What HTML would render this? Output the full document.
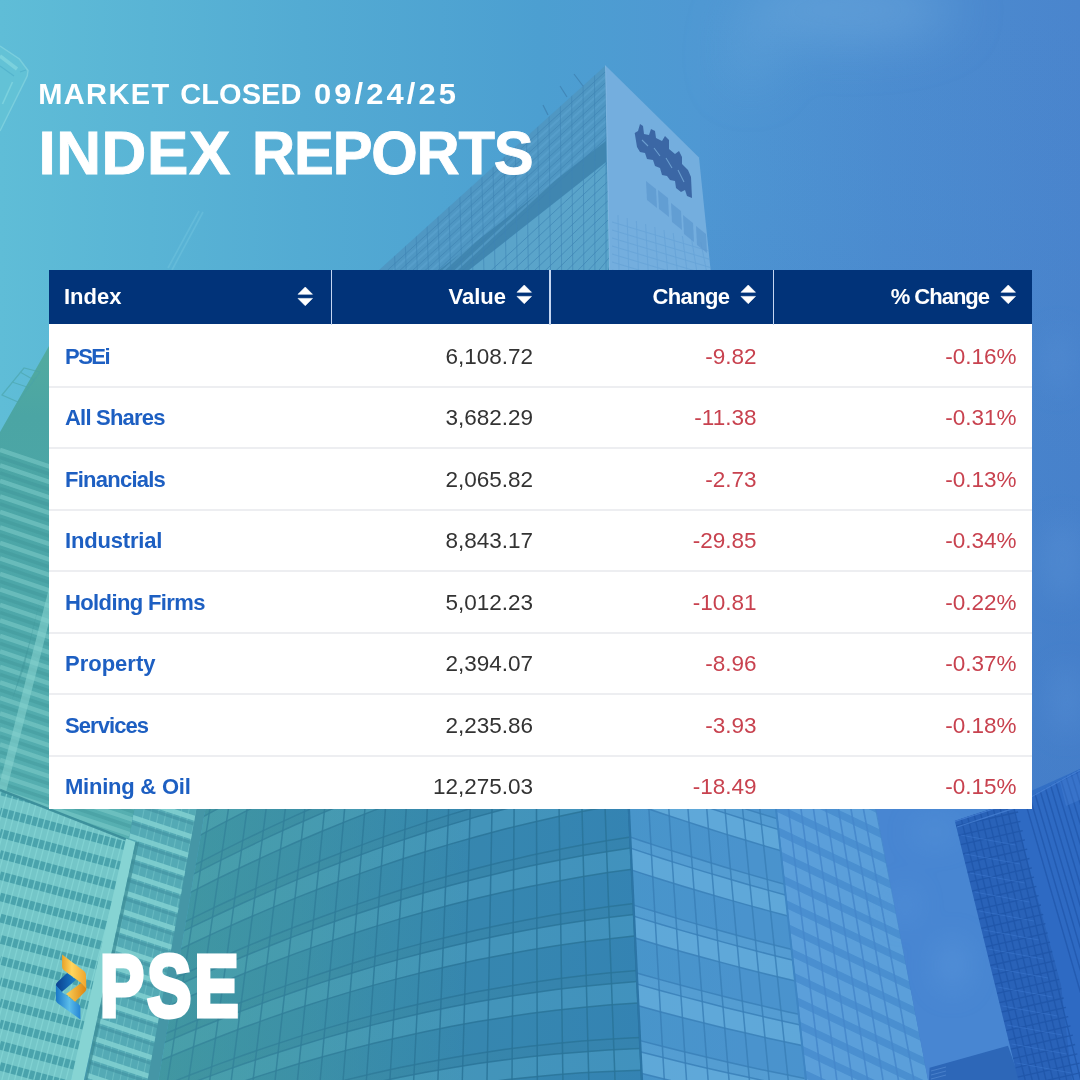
<!DOCTYPE html>
<html lang="en"><head><meta charset="utf-8"><title>Index Reports</title>
<style>
*{margin:0;padding:0;box-sizing:border-box}
html,body{width:1080px;height:1080px;overflow:hidden;background:#4a94c8}
body{position:relative;font-family:"Liberation Sans",sans-serif}
#bg{position:absolute;left:0;top:0;width:1080px;height:1080px;display:block}
.sub{position:absolute;left:0;top:73.6px;color:#fff;font-weight:bold;font-size:29px;line-height:40px;white-space:nowrap}
.sub span{position:absolute;top:0;display:block;transform-origin:0 0}
.title{position:absolute;left:0;top:117.8px;color:#fff;font-weight:bold;font-size:62px;line-height:70px;white-space:nowrap;-webkit-text-stroke:0.9px #fff}
.title span{position:absolute;top:0;display:block;transform-origin:0 0}
.tbl{position:absolute;left:49px;top:270px;width:983px;height:539px;background:#fff;overflow:hidden}
.hd{position:absolute;left:0;top:0;width:983px;height:54px;background:#013379}
.hd div{position:absolute;top:0;height:54px;color:#fff;font-weight:bold;font-size:22px;line-height:54px;white-space:nowrap}
.hd .sep{width:1.5px;background:#c4d6f2;top:0;height:54.5px}
.row{position:absolute;left:0;width:983px;height:61.4px}
.ln{position:absolute;left:0;width:983px;height:2px;background:#edeef1}
.row div{position:absolute;top:2px;height:60px;line-height:60px;font-size:22.5px;white-space:nowrap}
.c1{left:16px;color:#1d5fc2;font-weight:bold;font-size:22px !important}
.c2{right:499px;color:#333;text-align:right}
.c3{right:275.5px;color:#c8424f;text-align:right}
.c4{right:15.5px;color:#c8424f;text-align:right}
.srt{position:absolute}
.pse{position:absolute;left:100.4px;top:944.3px;color:#fff;font-weight:bold;font-size:86.2px;line-height:84px;white-space:nowrap;-webkit-text-stroke:5px #fff;letter-spacing:4.3px;transform-origin:0 0;transform:scaleX(0.765)}
</style></head>
<body>
<svg id="bg" width="1080" height="1080" viewBox="0 0 1080 1080">
<defs>
<linearGradient id="sky" x1="0" y1="0" x2="1" y2="0">
<stop offset="0" stop-color="#5fbdd7"/><stop offset="0.28" stop-color="#53abd3"/><stop offset="0.5" stop-color="#4c9fd1"/><stop offset="0.65" stop-color="#4f98d3"/><stop offset="0.82" stop-color="#4c8dd0"/><stop offset="1" stop-color="#4a85cd"/>
</linearGradient>
<linearGradient id="skyv" x1="0" y1="0" x2="0" y2="1">
<stop offset="0" stop-color="#3a70c2" stop-opacity="0"/><stop offset="0.2" stop-color="#3a70c2" stop-opacity="0.05"/><stop offset="1" stop-color="#3a70c2" stop-opacity="0.5"/>
</linearGradient>
<linearGradient id="faceL" x1="0" y1="1" x2="1" y2="0">
<stop offset="0" stop-color="#4f9cc6"/><stop offset="1" stop-color="#4a8fbe"/>
</linearGradient>
<linearGradient id="glassL" x1="0" y1="0" x2="1" y2="0">
<stop offset="0" stop-color="#4095a6"/><stop offset="0.5" stop-color="#3a8cb0"/><stop offset="1" stop-color="#3786b9"/>
</linearGradient>
<linearGradient id="tealO" gradientUnits="userSpaceOnUse" x1="160" y1="0" x2="470" y2="0"><stop offset="0" stop-color="#4aa59c" stop-opacity="0.4"/><stop offset="1" stop-color="#4aa59c" stop-opacity="0"/></linearGradient>
<linearGradient id="glassR" x1="0" y1="0" x2="1" y2="0">
<stop offset="0" stop-color="#4a98cb"/><stop offset="1" stop-color="#4d95d0"/>
</linearGradient>
<linearGradient id="bldA" x1="0" y1="0" x2="1" y2="0">
<stop offset="0" stop-color="#5ab4b6"/><stop offset="1" stop-color="#58b2b6"/>
</linearGradient>
<linearGradient id="stripL" x1="0" y1="0" x2="0" y2="1">
<stop offset="0" stop-color="#52ab9f"/><stop offset="0.14" stop-color="#4ba5a4"/><stop offset="0.5" stop-color="#4da7a9"/><stop offset="1" stop-color="#57b0b2"/>
</linearGradient>
<filter id="bl" x="-60%" y="-150%" width="220%" height="400%"><feGaussianBlur stdDeviation="14"/></filter>
<filter id="bl2" x="-60%" y="-200%" width="220%" height="500%"><feGaussianBlur stdDeviation="26"/></filter>
<clipPath id="cA"><polygon points="0,790 134.4,842.6 71,1080 0,1080"/></clipPath>
<clipPath id="cB"><polygon points="136,800 198,800 147.6,1080 86,1080"/></clipPath>
<clipPath id="cGL"><polygon points="207,800 628,800 642,1080 158.5,1080"/></clipPath>
<clipPath id="cGR"><polygon points="628,800 775,800 806,1080 642,1080"/></clipPath>
<clipPath id="cGF"><polygon points="775.5,800 874.5,800 928,1080 805,1080"/></clipPath>
<clipPath id="cD"><polygon points="954.8,820.7 1032,795.5 1080,769 1080,1080 1018.3,1080"/></clipPath>
<clipPath id="cT1"><polygon points="379,270 605.5,65.5 610,270"/></clipPath>
<clipPath id="cT2"><polygon points="605.5,65.5 699,157.5 710.6,270 609.4,270"/></clipPath>
<clipPath id="cS"><polygon points="49,346 0,432 0,790 134.4,842.6 146,800 49,800"/></clipPath>
</defs>
<rect width="1080" height="1080" fill="url(#sky)"/>
<rect x="700" width="380" height="1080" fill="url(#skyv)"/>
<g fill="#73addf" opacity="0.5" filter="url(#bl2)"><ellipse cx="850" cy="10" rx="105" ry="30"/><ellipse cx="885" cy="18" rx="50" ry="20"/><ellipse cx="750" cy="55" rx="14" ry="30"/></g>
<g fill="#5a92d6" opacity="0.4" filter="url(#bl)"><ellipse cx="1062" cy="560" rx="22" ry="40"/><ellipse cx="1066" cy="700" rx="18" ry="34"/><ellipse cx="1058" cy="360" rx="14" ry="30"/></g>
<g opacity="0.6"><polygon points="0,46 19.4,59 28,70.5 27.2,76 0,131" fill="#66c6d6"/><polyline points="0,46 19.4,59 28,70.5 27.2,76 0,131" fill="none" stroke="#8edbe2" stroke-width="1.4"/><path d="M0 56 L17 69" stroke="#8fe0e2" stroke-width="3.5" fill="none"/><path d="M12.5 82 L2.5 104" stroke="#8fe0e2" stroke-width="1.6" fill="none"/><path d="M0 66 L14 76 M20 72 L26 70" stroke="#4fb0c8" stroke-width="1.2" fill="none"/></g>
<g stroke="#6fc3de" stroke-width="1.6" opacity="0.55" fill="none"><path d="M203 212 L172 270"/><path d="M199 211 L168 268"/></g>
<polygon points="379,270 605.5,65.5 610,270" fill="#4f97c3"/>
<g clip-path="url(#cT1)">
<polygon points="469,270 606,162 611,270" fill="#5ca6cb" opacity="0.85"/>
<polygon points="439,270 606,141 606,162 469,270" fill="#3e84ae" opacity="0.9"/>
<g stroke="#5fa5d2" stroke-width="2.2" opacity="0.5" fill="none">
<path d="M393.3 270.2 L605.7 76.5"/>
<path d="M405.6 270.4 L605.9 87.5"/>
<path d="M418.0 270.7 L606.2 98.5"/>
<path d="M430.3 270.9 L606.4 109.5"/>
<path d="M442.6 271.1 L606.6 120.5"/>
<path d="M454.9 271.3 L606.8 131.5"/>
</g>
<g stroke="#3f82b2" stroke-width="1" opacity="0.6" fill="none">
<path d="M387.7 270.1 L605.6 71.5"/>
<path d="M400.0 270.3 L605.8 82.5"/>
<path d="M412.4 270.6 L606.1 93.5"/>
<path d="M424.7 270.8 L606.3 104.5"/>
<path d="M437.0 271.0 L606.5 115.5"/>
<path d="M449.3 271.2 L606.7 126.5"/>
<path d="M461.6 271.4 L606.9 137.5"/>
</g>
<g stroke="#3f85b5" stroke-width="1" opacity="0.7" fill="none">
<path d="M489.6 271.9 L607.4 162.5"/>
<path d="M500.3 272.1 L607.6 172.0"/>
<path d="M510.9 272.3 L607.8 181.5"/>
<path d="M521.6 272.5 L608.0 191.0"/>
<path d="M532.2 272.7 L608.2 200.5"/>
<path d="M542.8 272.9 L608.4 210.0"/>
<path d="M553.5 273.1 L608.6 219.5"/>
<path d="M564.1 273.3 L608.8 229.0"/>
<path d="M574.8 273.5 L609.0 238.5"/>
<path d="M585.4 273.6 L609.1 248.0"/>
<path d="M596.0 273.8 L609.3 257.5"/>
<path d="M606.7 274.0 L609.5 267.0"/>
</g>
<g stroke="#3f85b5" stroke-width="1" opacity="0.6" fill="none">
<path d="M606.0 60 L606.0 270"/>
<path d="M594.5 60 L594.9 270"/>
<path d="M583.0 60 L583.8 270"/>
<path d="M571.5 60 L572.7 270"/>
<path d="M560.0 60 L561.6 270"/>
<path d="M548.5 60 L550.5 270"/>
<path d="M537.0 60 L539.4 270"/>
<path d="M525.5 60 L528.3 270"/>
<path d="M514.0 60 L517.2 270"/>
<path d="M502.5 60 L506.1 270"/>
<path d="M491.0 60 L495.0 270"/>
<path d="M479.5 60 L483.9 270"/>
<path d="M468.0 60 L472.8 270"/>
<path d="M456.5 60 L461.7 270"/>
<path d="M445.0 60 L450.6 270"/>
<path d="M433.5 60 L439.5 270"/>
<path d="M422.0 60 L428.4 270"/>
<path d="M410.5 60 L417.3 270"/>
<path d="M399.0 60 L406.2 270"/>
<path d="M387.5 60 L395.1 270"/>
</g>
</g>
<g stroke="#3f82b2" stroke-width="1.2" opacity="0.8" fill="none"><path d="M574 74 L583 86"/><path d="M560 86 L567 97"/><path d="M543 105 L548 115"/></g>
<polygon points="605.5,65.5 699,157.5 710.6,270 609.4,270" fill="#74aede"/>
<g clip-path="url(#cT2)">
<g stroke="#5f9dd4" stroke-width="0.9" opacity="0.55" fill="none">
<path d="M618.0 215.0 L619.0 270"/>
<path d="M627.2 218.0 L628.7 270"/>
<path d="M636.4 221.0 L638.4 270"/>
<path d="M645.6 224.0 L648.1 270"/>
<path d="M654.8 227.0 L657.8 270"/>
<path d="M664.0 230.0 L667.5 270"/>
<path d="M673.2 233.0 L677.2 270"/>
<path d="M682.4 236.0 L686.9 270"/>
<path d="M691.6 239.0 L696.6 270"/>
<path d="M700.8 242.0 L706.3 270"/>
<path d="M612 222 L712 252"/>
<path d="M612 230 L712 260"/>
<path d="M612 238 L712 268"/>
<path d="M612 246 L712 276"/>
<path d="M612 254 L712 284"/>
<path d="M612 262 L712 292"/>
<path d="M612 270 L712 300"/>
<path d="M612 278 L712 308"/>
</g>
<g fill="#5c97cf" opacity="0.7">
<polygon points="646,181 656,189 657,208 647,200"/>
<polygon points="658,190 668,198 669,217 659,209"/>
<polygon points="671,203 681,211 682,230 672,222"/>
<polygon points="683,215 693,223 694,242 684,234"/>
<polygon points="696,226 706,234 707,253 697,245"/>
</g>
<path d="M634.7 133 L638 131 L640 124 L643 126 L644 134 L649 135 L651 129 L655 131 L656 138 L662 141 L665 136 L669 140 L669 149 L675 154 L679 151 L682 157 L682 164 L688 170 L691 177 L692 198 L687 196 L685 190 L681 192 L676 188 L675 181 L670 180 L667 176 L662 175 L660 168 L655 166 L653 160 L647 159 L645 153 L640 152 L637 147 Z" fill="#355f9f" opacity="0.9"/>
<g stroke="#7fb4e0" stroke-width="1.1" opacity="0.7" fill="none"><path d="M642 140 L648 146 M654 148 L660 156 M666 158 L672 168 M678 170 L684 182"/></g>
</g>
<path d="M605.5 65.5 L609.6 270" stroke="#8fc0e6" stroke-width="1" opacity="0.6" fill="none"/>
<polygon points="49,346 0,432 0,790 134.4,842.6 146,800 49,800" fill="url(#stripL)"/>
<g clip-path="url(#cS)">
<g stroke="#7fcdca" stroke-width="4.5" opacity="0.55" fill="none">
<path d="M0 450.0 L150 500.0"/>
<path d="M0 465.5 L150 515.5"/>
<path d="M0 481.0 L150 531.0"/>
<path d="M0 496.5 L150 546.5"/>
<path d="M0 512.0 L150 562.0"/>
<path d="M0 527.5 L150 577.5"/>
<path d="M0 543.0 L150 593.0"/>
<path d="M0 558.5 L150 608.5"/>
<path d="M0 574.0 L150 624.0"/>
<path d="M0 589.5 L150 639.5"/>
<path d="M0 605.0 L150 655.0"/>
<path d="M0 620.5 L150 670.5"/>
<path d="M0 636.0 L150 686.0"/>
<path d="M0 651.5 L150 701.5"/>
<path d="M0 667.0 L150 717.0"/>
<path d="M0 682.5 L150 732.5"/>
<path d="M0 698.0 L150 748.0"/>
<path d="M0 713.5 L150 763.5"/>
<path d="M0 729.0 L150 779.0"/>
<path d="M0 744.5 L150 794.5"/>
<path d="M0 760.0 L150 810.0"/>
<path d="M0 775.5 L150 825.5"/>
<path d="M0 791.0 L150 841.0"/>
<path d="M0 806.5 L150 856.5"/>
<path d="M0 822.0 L150 872.0"/>
<path d="M0 837.5 L150 887.5"/>
</g>
<g stroke="#3f9598" stroke-width="3.5" opacity="0.4" fill="none">
<path d="M0 457.5 L150 507.5"/>
<path d="M0 473.0 L150 523.0"/>
<path d="M0 488.5 L150 538.5"/>
<path d="M0 504.0 L150 554.0"/>
<path d="M0 519.5 L150 569.5"/>
<path d="M0 535.0 L150 585.0"/>
<path d="M0 550.5 L150 600.5"/>
<path d="M0 566.0 L150 616.0"/>
<path d="M0 581.5 L150 631.5"/>
<path d="M0 597.0 L150 647.0"/>
<path d="M0 612.5 L150 662.5"/>
<path d="M0 628.0 L150 678.0"/>
<path d="M0 643.5 L150 693.5"/>
<path d="M0 659.0 L150 709.0"/>
<path d="M0 674.5 L150 724.5"/>
<path d="M0 690.0 L150 740.0"/>
<path d="M0 705.5 L150 755.5"/>
<path d="M0 721.0 L150 771.0"/>
<path d="M0 736.5 L150 786.5"/>
<path d="M0 752.0 L150 802.0"/>
<path d="M0 767.5 L150 817.5"/>
<path d="M0 783.0 L150 833.0"/>
<path d="M0 798.5 L150 848.5"/>
<path d="M0 814.0 L150 864.0"/>
<path d="M0 829.5 L150 879.5"/>
<path d="M0 845.0 L150 895.0"/>
</g>
<polygon points="40,600 24,668 12,700 30,640" fill="#3f9498" opacity="0.45"/>
<polygon points="49,588 49,622 0,816 0,782" fill="#86d2ce" opacity="0.6"/>
</g>
<g stroke="#4aa3a8" stroke-width="1.2" opacity="0.6" fill="none"><path d="M2 395 L24 368 L40 372 L18 402 Z"/><path d="M12 382 L30 388 M20 372 L34 380"/></g>
<polygon points="0,790 134.4,842.6 71,1080 0,1080" fill="#74c6c8"/>
<g clip-path="url(#cA)" stroke="#4aa3ac" stroke-width="8.6" fill="none" opacity="1">
<path d="M0 769.6 L150 810.1"/>
<path d="M0 790.8 L150 831.3"/>
<path d="M0 812.0 L150 852.5"/>
<path d="M0 833.2 L150 873.7"/>
<path d="M0 854.4 L150 894.9"/>
<path d="M0 875.6 L150 916.1"/>
<path d="M0 896.8 L150 937.3"/>
<path d="M0 918.0 L150 958.5"/>
<path d="M0 939.2 L150 979.7"/>
<path d="M0 960.4 L150 1000.9"/>
<path d="M0 981.6 L150 1022.1"/>
<path d="M0 1002.8 L150 1043.3"/>
<path d="M0 1024.0 L150 1064.5"/>
<path d="M0 1045.2 L150 1085.7"/>
<path d="M0 1066.4 L150 1106.9"/>
<path d="M0 1087.6 L150 1128.1"/>
<path d="M0 1108.8 L150 1149.3"/>
<path d="M0 1130.0 L150 1170.5"/>
</g>
<g clip-path="url(#cA)" stroke="#86d6d6" stroke-width="1.3" fill="none" opacity="0.75">
<path d="M4.0 780 L-75.0 1080"/>
<path d="M10.4 780 L-68.6 1080"/>
<path d="M16.8 780 L-62.2 1080"/>
<path d="M23.2 780 L-55.8 1080"/>
<path d="M29.6 780 L-49.4 1080"/>
<path d="M36.0 780 L-43.0 1080"/>
<path d="M42.4 780 L-36.6 1080"/>
<path d="M48.8 780 L-30.2 1080"/>
<path d="M55.2 780 L-23.8 1080"/>
<path d="M61.6 780 L-17.4 1080"/>
<path d="M68.0 780 L-11.0 1080"/>
<path d="M74.4 780 L-4.6 1080"/>
<path d="M80.8 780 L1.8 1080"/>
<path d="M87.2 780 L8.2 1080"/>
<path d="M93.6 780 L14.6 1080"/>
<path d="M100.0 780 L21.0 1080"/>
<path d="M106.4 780 L27.4 1080"/>
<path d="M112.8 780 L33.8 1080"/>
<path d="M119.2 780 L40.2 1080"/>
<path d="M125.6 780 L46.6 1080"/>
<path d="M132.0 780 L53.0 1080"/>
<path d="M138.4 780 L59.4 1080"/>
<path d="M144.8 780 L65.8 1080"/>
<path d="M151.2 780 L72.2 1080"/>
<path d="M157.6 780 L78.6 1080"/>
<path d="M164.0 780 L85.0 1080"/>
<path d="M170.4 780 L91.4 1080"/>
<path d="M176.8 780 L97.8 1080"/>
<path d="M183.2 780 L104.2 1080"/>
<path d="M189.6 780 L110.6 1080"/>
<path d="M196.0 780 L117.0 1080"/>
<path d="M202.4 780 L123.4 1080"/>
<path d="M208.8 780 L129.8 1080"/>
<path d="M215.2 780 L136.2 1080"/>
<path d="M221.6 780 L142.6 1080"/>
<path d="M228.0 780 L149.0 1080"/>
</g>
<path d="M0 790 L134.4 842.6" stroke="#388c98" stroke-width="2.5" fill="none" opacity="0.9"/>
<polygon points="136,800 207,800 158.5,1080 86,1080" fill="#4596a6"/>
<polygon points="136,800 198,800 147.6,1080 86,1080" fill="#54aab5"/>
<g clip-path="url(#cB)">
<g stroke="#7fcdd0" stroke-width="1.1" fill="none" opacity="0.45">
<path d="M146.0 800 L90.0 1080"/>
<path d="M153.5 800 L97.5 1080"/>
<path d="M161.0 800 L105.0 1080"/>
<path d="M168.5 800 L112.5 1080"/>
<path d="M176.0 800 L120.0 1080"/>
<path d="M183.5 800 L127.5 1080"/>
<path d="M191.0 800 L135.0 1080"/>
<path d="M198.5 800 L142.5 1080"/>
<path d="M206.0 800 L150.0 1080"/>
<path d="M213.5 800 L157.5 1080"/>
<path d="M221.0 800 L165.0 1080"/>
<path d="M228.5 800 L172.5 1080"/>
</g>
<g stroke="#3f8f9e" stroke-width="3" fill="none" opacity="0.55">
<path d="M80 747.5 L200 787.1"/>
<path d="M80 767.0 L200 806.6"/>
<path d="M80 786.5 L200 826.1"/>
<path d="M80 806.0 L200 845.6"/>
<path d="M80 825.5 L200 865.1"/>
<path d="M80 845.0 L200 884.6"/>
<path d="M80 864.5 L200 904.1"/>
<path d="M80 884.0 L200 923.6"/>
<path d="M80 903.5 L200 943.1"/>
<path d="M80 923.0 L200 962.6"/>
<path d="M80 942.5 L200 982.1"/>
<path d="M80 962.0 L200 1001.6"/>
<path d="M80 981.5 L200 1021.1"/>
<path d="M80 1001.0 L200 1040.6"/>
<path d="M80 1020.5 L200 1060.1"/>
<path d="M80 1040.0 L200 1079.6"/>
<path d="M80 1059.5 L200 1099.1"/>
<path d="M80 1079.0 L200 1118.6"/>
<path d="M80 1098.5 L200 1138.1"/>
<path d="M80 1118.0 L200 1157.6"/>
<path d="M80 1137.5 L200 1177.1"/>
</g>
<g stroke="#80cfd0" stroke-width="5" fill="none" opacity="0.9">
<path d="M80 741.5 L200 781.1"/>
<path d="M80 761.0 L200 800.6"/>
<path d="M80 780.5 L200 820.1"/>
<path d="M80 800.0 L200 839.6"/>
<path d="M80 819.5 L200 859.1"/>
<path d="M80 839.0 L200 878.6"/>
<path d="M80 858.5 L200 898.1"/>
<path d="M80 878.0 L200 917.6"/>
<path d="M80 897.5 L200 937.1"/>
<path d="M80 917.0 L200 956.6"/>
<path d="M80 936.5 L200 976.1"/>
<path d="M80 956.0 L200 995.6"/>
<path d="M80 975.5 L200 1015.1"/>
<path d="M80 995.0 L200 1034.6"/>
<path d="M80 1014.5 L200 1054.1"/>
<path d="M80 1034.0 L200 1073.6"/>
<path d="M80 1053.5 L200 1093.1"/>
<path d="M80 1073.0 L200 1112.6"/>
<path d="M80 1092.5 L200 1132.1"/>
<path d="M80 1112.0 L200 1151.6"/>
<path d="M80 1131.5 L200 1171.1"/>
</g>
</g>
<polygon points="136,809 147,809 147,800 138,800" fill="#3a8a95" opacity="0.6"/>
<polygon points="126,838.5 135.5,842 84,1080 71,1080" fill="#86d4d3"/>
<polygon points="135.5,842 139,842 87.5,1080 84,1080" fill="#3a8a95" opacity="0.7"/>
<polygon points="207,800 628,800 642,1080 158.5,1080" fill="url(#glassL)"/>
<g clip-path="url(#cGL)">
<polygon points="140,794.2 166,778.1 192,762.4 218,747.1 244,732.4 270,718.1 296,704.3 322,691.0 348,678.1 374,665.7 400,653.8 426,642.4 452,631.4 478,620.9 504,610.9 530,601.3 556,592.2 582,583.6 608,575.5 634,567.9 660,560.7 660,571.8 634,578.9 608,586.4 582,594.4 556,602.8 530,611.8 504,621.2 478,631.0 452,641.4 426,652.2 400,663.5 374,675.3 348,687.5 322,700.2 296,713.4 270,727.1 244,741.2 218,755.8 192,770.9 166,786.5 140,802.5" fill="#347f9f" opacity="0.35"/>
<polygon points="140,802.5 166,786.5 192,770.9 218,755.8 244,741.2 270,727.1 296,713.4 322,700.2 348,687.5 374,675.3 400,663.5 426,652.2 452,641.4 478,631.0 504,621.2 530,611.8 556,602.8 582,594.4 608,586.4 634,578.9 660,571.8 660,593.7 634,600.4 608,607.6 582,615.3 556,623.5 530,632.2 504,641.3 478,650.9 452,660.9 426,671.5 400,682.5 374,694.0 348,705.9 322,718.3 296,731.2 270,744.6 244,758.5 218,772.8 192,787.6 166,802.9 140,818.6" fill="#58abc8" opacity="0.33"/>
<polygon points="140,818.6 166,802.9 192,787.6 218,772.8 244,758.5 270,744.6 296,731.2 322,718.3 348,705.9 374,694.0 400,682.5 426,671.5 452,660.9 478,650.9 504,641.3 530,632.2 556,623.5 582,615.3 608,607.6 634,600.4 660,593.7 660,628.7 634,635.0 608,641.8 582,649.0 556,656.7 530,664.9 504,673.5 478,682.7 452,692.3 426,702.4 400,712.9 374,723.9 348,735.4 322,747.4 296,759.8 270,772.8 244,786.2 218,800.0 192,814.4 166,829.2 140,844.4" fill="#2f7da5" opacity="0.28"/>
<polygon points="140,844.4 166,829.2 192,814.4 218,800.0 244,786.2 270,772.8 296,759.8 322,747.4 348,735.4 374,723.9 400,712.9 426,702.4 452,692.3 478,682.7 504,673.5 530,664.9 556,656.7 582,649.0 608,641.8 634,635.0 660,628.7 660,639.9 634,646.0 608,652.6 582,659.7 556,667.3 530,675.3 504,683.8 478,692.8 452,702.3 426,712.2 400,722.6 374,733.5 348,744.8 322,756.7 296,769.0 270,781.7 244,795.0 218,808.7 192,822.9 166,837.6 140,852.7" fill="#347f9f" opacity="0.35"/>
<polygon points="140,852.7 166,837.6 192,822.9 218,808.7 244,795.0 270,781.7 296,769.0 322,756.7 348,744.8 374,733.5 400,722.6 426,712.2 452,702.3 478,692.8 504,683.8 530,675.3 556,667.3 582,659.7 608,652.6 634,646.0 660,639.9 660,661.7 634,667.6 608,673.9 582,680.7 556,688.0 530,695.7 504,704.0 478,712.7 452,721.8 426,731.5 400,741.6 374,752.2 348,763.2 322,774.8 296,786.8 270,799.3 244,812.2 218,825.7 192,839.6 166,854.0 140,868.8" fill="#58abc8" opacity="0.33"/>
<polygon points="140,868.8 166,854.0 192,839.6 218,825.7 244,812.2 270,799.3 296,786.8 322,774.8 348,763.2 374,752.2 400,741.6 426,731.5 452,721.8 478,712.7 504,704.0 530,695.7 556,688.0 582,680.7 608,673.9 634,667.6 660,661.7 660,696.7 634,702.1 608,708.0 582,714.3 556,721.2 530,728.5 504,736.2 478,744.5 452,753.2 426,762.4 400,772.0 374,782.2 348,792.8 322,803.8 296,815.4 270,827.4 244,839.9 218,852.9 192,866.3 166,880.3 140,894.7" fill="#2f7da5" opacity="0.28"/>
<polygon points="140,894.7 166,880.3 192,866.3 218,852.9 244,839.9 270,827.4 296,815.4 322,803.8 348,792.8 374,782.2 400,772.0 426,762.4 452,753.2 478,744.5 504,736.2 530,728.5 556,721.2 582,714.3 608,708.0 634,702.1 660,696.7 660,707.9 634,713.1 608,718.9 582,725.1 556,731.8 530,738.9 504,746.5 478,754.6 452,763.2 426,772.2 400,781.7 374,791.7 348,802.2 322,813.1 296,824.5 270,836.4 244,848.8 218,861.6 192,874.9 166,888.6 140,902.9" fill="#347f9f" opacity="0.35"/>
<polygon points="140,902.9 166,888.6 192,874.9 218,861.6 244,848.8 270,836.4 296,824.5 322,813.1 348,802.2 374,791.7 400,781.7 426,772.2 452,763.2 478,754.6 504,746.5 530,738.9 556,731.8 582,725.1 608,718.9 634,713.1 660,707.9 660,729.7 634,734.7 608,740.1 582,746.1 556,752.4 530,759.3 504,766.6 478,774.4 452,782.7 426,791.5 400,800.7 374,810.4 348,820.6 322,831.2 296,842.3 270,853.9 244,866.0 218,878.5 192,891.6 166,905.0 140,919.0" fill="#58abc8" opacity="0.33"/>
<polygon points="140,919.0 166,905.0 192,891.6 218,878.5 244,866.0 270,853.9 296,842.3 322,831.2 348,820.6 374,810.4 400,800.7 426,791.5 452,782.7 478,774.4 504,766.6 530,759.3 556,752.4 582,746.1 608,740.1 634,734.7 660,729.7 660,764.8 634,769.3 608,774.2 582,779.7 556,785.6 530,792.0 504,798.9 478,806.3 452,814.1 426,822.4 400,831.1 374,840.4 348,850.1 322,860.3 296,871.0 270,882.1 244,893.7 218,905.8 192,918.3 166,931.4 140,944.9" fill="#2f7da5" opacity="0.28"/>
<polygon points="140,944.9 166,931.4 192,918.3 218,905.8 244,893.7 270,882.1 296,871.0 322,860.3 348,850.1 374,840.4 400,831.1 426,822.4 452,814.1 478,806.3 504,798.9 530,792.0 556,785.6 582,779.7 608,774.2 634,769.3 660,764.8 660,775.9 634,780.3 608,785.1 582,790.4 556,796.2 530,802.5 504,809.2 478,816.4 452,824.1 426,832.2 400,840.9 374,849.9 348,859.5 322,869.6 296,880.1 270,891.1 244,902.5 218,914.5 192,926.9 166,939.7 140,953.1" fill="#347f9f" opacity="0.35"/>
<polygon points="140,953.1 166,939.7 192,926.9 218,914.5 244,902.5 270,891.1 296,880.1 322,869.6 348,859.5 374,849.9 400,840.9 426,832.2 452,824.1 478,816.4 504,809.2 530,802.5 556,796.2 582,790.4 608,785.1 634,780.3 660,775.9 660,797.8 634,801.8 608,806.4 582,811.4 556,816.9 530,822.9 504,829.3 478,836.2 452,843.6 426,851.5 400,859.8 374,868.6 348,877.9 322,887.7 296,897.9 270,908.6 244,919.8 218,931.4 192,943.5 166,956.1 140,969.2" fill="#58abc8" opacity="0.33"/>
<polygon points="140,969.2 166,956.1 192,943.5 218,931.4 244,919.8 270,908.6 296,897.9 322,887.7 348,877.9 374,868.6 400,859.8 426,851.5 452,843.6 478,836.2 504,829.3 530,822.9 556,816.9 582,811.4 608,806.4 634,801.8 660,797.8 660,832.8 634,836.4 608,840.5 582,845.1 556,850.1 530,855.6 504,861.6 478,868.0 452,875.0 426,882.4 400,890.3 374,898.6 348,907.4 322,916.7 296,926.5 270,936.7 244,947.5 218,958.7 192,970.3 166,982.4 140,995.1" fill="#2f7da5" opacity="0.28"/>
<polygon points="140,995.1 166,982.4 192,970.3 218,958.7 244,947.5 270,936.7 296,926.5 322,916.7 348,907.4 374,898.6 400,890.3 426,882.4 452,875.0 478,868.0 504,861.6 530,855.6 556,850.1 582,845.1 608,840.5 634,836.4 660,832.8 660,844.0 634,847.4 608,851.4 582,855.8 556,860.7 530,866.0 504,871.9 478,878.2 452,885.0 426,892.2 400,900.0 374,908.2 348,916.8 322,926.0 296,935.6 270,945.7 244,956.3 218,967.3 192,978.8 166,990.8 140,1003.3" fill="#347f9f" opacity="0.35"/>
<polygon points="140,1003.3 166,990.8 192,978.8 218,967.3 244,956.3 270,945.7 296,935.6 322,926.0 348,916.8 374,908.2 400,900.0 426,892.2 452,885.0 478,878.2 504,871.9 530,866.0 556,860.7 582,855.8 608,851.4 634,847.4 660,844.0 660,865.8 634,869.0 608,872.6 582,876.8 556,881.4 530,886.4 504,892.0 478,898.0 452,904.5 426,911.5 400,918.9 374,926.9 348,935.2 322,944.1 296,953.4 270,963.3 244,973.5 218,984.3 192,995.5 166,1007.2 140,1019.4" fill="#58abc8" opacity="0.33"/>
<polygon points="140,1019.4 166,1007.2 192,995.5 218,984.3 244,973.5 270,963.3 296,953.4 322,944.1 348,935.2 374,926.9 400,918.9 426,911.5 452,904.5 478,898.0 504,892.0 530,886.4 556,881.4 582,876.8 608,872.6 634,869.0 660,865.8 660,900.8 634,903.5 608,906.7 582,910.4 556,914.6 530,919.2 504,924.3 478,929.8 452,935.9 426,942.4 400,949.4 374,956.8 348,964.8 322,973.2 296,982.1 270,991.4 244,1001.2 218,1011.5 192,1022.3 166,1033.5 140,1045.3" fill="#2f7da5" opacity="0.28"/>
<polygon points="140,1045.3 166,1033.5 192,1022.3 218,1011.5 244,1001.2 270,991.4 296,982.1 322,973.2 348,964.8 374,956.8 400,949.4 426,942.4 452,935.9 478,929.8 504,924.3 530,919.2 556,914.6 582,910.4 608,906.7 634,903.5 660,900.8 660,912.0 634,914.6 608,917.6 582,921.1 556,925.1 530,929.6 504,934.6 478,940.0 452,945.9 426,952.2 400,959.1 374,966.4 348,974.2 322,982.4 296,991.2 270,1000.4 244,1010.1 218,1020.2 192,1030.8 166,1041.9 140,1053.5" fill="#347f9f" opacity="0.35"/>
<polygon points="140,1053.5 166,1041.9 192,1030.8 218,1020.2 244,1010.1 270,1000.4 296,991.2 322,982.4 348,974.2 374,966.4 400,959.1 426,952.2 452,945.9 478,940.0 504,934.6 530,929.6 556,925.1 582,921.1 608,917.6 634,914.6 660,912.0 660,933.8 634,936.1 608,938.9 582,942.1 556,945.8 530,950.0 504,954.7 478,959.8 452,965.4 426,971.5 400,978.1 374,985.1 348,992.6 322,1000.6 296,1009.0 270,1017.9 244,1027.3 218,1037.2 192,1047.5 166,1058.3 140,1069.6" fill="#58abc8" opacity="0.33"/>
<polygon points="140,1069.6 166,1058.3 192,1047.5 218,1037.2 244,1027.3 270,1017.9 296,1009.0 322,1000.6 348,992.6 374,985.1 400,978.1 426,971.5 452,965.4 478,959.8 504,954.7 530,950.0 556,945.8 582,942.1 608,938.9 634,936.1 660,933.8 660,968.8 634,970.7 608,973.0 582,975.8 556,979.0 530,982.8 504,987.0 478,991.6 452,996.8 426,1002.4 400,1008.5 374,1015.1 348,1022.1 322,1029.6 296,1037.6 270,1046.1 244,1055.0 218,1064.4 192,1074.3 166,1084.6 140,1095.5" fill="#2f7da5" opacity="0.28"/>
<polygon points="140,1095.5 166,1084.6 192,1074.3 218,1064.4 244,1055.0 270,1046.1 296,1037.6 322,1029.6 348,1022.1 374,1015.1 400,1008.5 426,1002.4 452,996.8 478,991.6 504,987.0 530,982.8 556,979.0 582,975.8 608,973.0 634,970.7 660,968.8 660,980.0 634,981.7 608,983.9 582,986.5 556,989.6 530,993.2 504,997.2 478,1001.8 452,1006.8 426,1012.2 400,1018.2 374,1024.6 348,1031.5 322,1038.9 296,1046.7 270,1055.0 244,1063.8 218,1073.1 192,1082.8 166,1093.0 140,1103.7" fill="#347f9f" opacity="0.35"/>
<polygon points="140,1103.7 166,1093.0 192,1082.8 218,1073.1 244,1063.8 270,1055.0 296,1046.7 322,1038.9 348,1031.5 374,1024.6 400,1018.2 426,1012.2 452,1006.8 478,1001.8 504,997.2 530,993.2 556,989.6 582,986.5 608,983.9 634,981.7 660,980.0 660,1001.8 634,1003.2 608,1005.1 582,1007.5 556,1010.3 530,1013.6 504,1017.4 478,1021.6 452,1026.3 426,1031.5 400,1037.2 374,1043.3 348,1049.9 322,1057.0 296,1064.5 270,1072.6 244,1081.1 218,1090.1 192,1099.5 166,1109.4 140,1119.8" fill="#58abc8" opacity="0.33"/>
<polygon points="140,1119.8 166,1109.4 192,1099.5 218,1090.1 244,1081.1 270,1072.6 296,1064.5 322,1057.0 348,1049.9 374,1043.3 400,1037.2 426,1031.5 452,1026.3 478,1021.6 504,1017.4 530,1013.6 556,1010.3 582,1007.5 608,1005.1 634,1003.2 660,1001.8 660,1036.9 634,1037.8 608,1039.2 582,1041.1 556,1043.5 530,1046.3 504,1049.6 478,1053.4 452,1057.7 426,1062.4 400,1067.6 374,1073.3 348,1079.4 322,1086.1 296,1093.2 270,1100.7 244,1108.8 218,1117.3 192,1126.3 166,1135.7 140,1145.7" fill="#2f7da5" opacity="0.28"/>
<polygon points="140,1145.7 166,1135.7 192,1126.3 218,1117.3 244,1108.8 270,1100.7 296,1093.2 322,1086.1 348,1079.4 374,1073.3 400,1067.6 426,1062.4 452,1057.7 478,1053.4 504,1049.6 530,1046.3 556,1043.5 582,1041.1 608,1039.2 634,1037.8 660,1036.9 660,1048.0 634,1048.8 608,1050.1 582,1051.9 556,1054.1 530,1056.8 504,1059.9 478,1063.6 452,1067.7 426,1072.3 400,1077.3 374,1082.8 348,1088.8 322,1095.3 296,1102.3 270,1109.7 244,1117.6 218,1126.0 192,1134.8 166,1144.1 140,1153.9" fill="#347f9f" opacity="0.35"/>
<polygon points="140,1153.9 166,1144.1 192,1134.8 218,1126.0 244,1117.6 270,1109.7 296,1102.3 322,1095.3 348,1088.8 374,1082.8 400,1077.3 426,1072.3 452,1067.7 478,1063.6 504,1059.9 530,1056.8 556,1054.1 582,1051.9 608,1050.1 634,1048.8 660,1048.0 660,1069.9 634,1070.4 608,1071.4 582,1072.8 556,1074.8 530,1077.2 504,1080.0 478,1083.4 452,1087.2 426,1091.5 400,1096.3 374,1101.5 348,1107.2 322,1113.4 296,1120.1 270,1127.2 244,1134.8 218,1142.9 192,1151.5 166,1160.5 140,1170.0" fill="#58abc8" opacity="0.33"/>
<polygon points="140,1170.0 166,1160.5 192,1151.5 218,1142.9 244,1134.8 270,1127.2 296,1120.1 322,1113.4 348,1107.2 374,1101.5 400,1096.3 426,1091.5 452,1087.2 478,1083.4 504,1080.0 530,1077.2 556,1074.8 582,1072.8 608,1071.4 634,1070.4 660,1069.9 660,1104.9 634,1104.9 608,1105.5 582,1106.5 556,1107.9 530,1109.9 504,1112.3 478,1115.2 452,1118.6 426,1122.4 400,1126.7 374,1131.5 348,1136.8 322,1142.5 296,1148.7 270,1155.4 244,1162.5 218,1170.2 192,1178.3 166,1186.8 140,1195.9" fill="#2f7da5" opacity="0.28"/>
<polygon points="140,1195.9 166,1186.8 192,1178.3 218,1170.2 244,1162.5 270,1155.4 296,1148.7 322,1142.5 348,1136.8 374,1131.5 400,1126.7 426,1122.4 452,1118.6 478,1115.2 504,1112.3 530,1109.9 556,1107.9 582,1106.5 608,1105.5 634,1104.9 660,1104.9 660,1116.1 634,1116.0 608,1116.4 582,1117.2 556,1118.5 530,1120.3 504,1122.6 478,1125.4 452,1128.6 426,1132.3 400,1136.4 374,1141.1 348,1146.2 322,1151.8 296,1157.8 270,1164.4 244,1171.4 218,1178.8 192,1186.8 166,1195.2 140,1204.1" fill="#347f9f" opacity="0.35"/>
<polygon points="140,1204.1 166,1195.2 192,1186.8 218,1178.8 244,1171.4 270,1164.4 296,1157.8 322,1151.8 348,1146.2 374,1141.1 400,1136.4 426,1132.3 452,1128.6 478,1125.4 504,1122.6 530,1120.3 556,1118.5 582,1117.2 608,1116.4 634,1116.0 660,1116.1 660,1137.9 634,1137.5 608,1137.6 582,1138.2 556,1139.2 530,1140.7 504,1142.7 478,1145.2 452,1148.1 426,1151.5 400,1155.4 374,1159.8 348,1164.6 322,1169.9 296,1175.7 270,1181.9 244,1188.6 218,1195.8 192,1203.5 166,1211.6 140,1220.2" fill="#58abc8" opacity="0.33"/>
<polygon points="140,1220.2 166,1211.6 192,1203.5 218,1195.8 244,1188.6 270,1181.9 296,1175.7 322,1169.9 348,1164.6 374,1159.8 400,1155.4 426,1151.5 452,1148.1 478,1145.2 504,1142.7 530,1140.7 556,1139.2 582,1138.2 608,1137.6 634,1137.5 660,1137.9 660,1172.9 634,1172.1 608,1171.7 582,1171.8 556,1172.4 530,1173.5 504,1175.0 478,1177.0 452,1179.5 426,1182.4 400,1185.8 374,1189.7 348,1194.1 322,1198.9 296,1204.3 270,1210.0 244,1216.3 218,1223.0 192,1230.2 166,1237.9 140,1246.1" fill="#2f7da5" opacity="0.28"/>
<polygon points="140,1246.1 166,1237.9 192,1230.2 218,1223.0 244,1216.3 270,1210.0 296,1204.3 322,1198.9 348,1194.1 374,1189.7 400,1185.8 426,1182.4 452,1179.5 478,1177.0 504,1175.0 530,1173.5 556,1172.4 582,1171.8 608,1171.7 634,1172.1 660,1172.9 660,1184.1 634,1183.1 608,1182.6 582,1182.6 556,1183.0 530,1183.9 504,1185.3 478,1187.1 452,1189.5 426,1192.3 400,1195.5 374,1199.3 348,1203.5 322,1208.2 296,1213.4 270,1219.0 244,1225.1 218,1231.7 192,1238.8 166,1246.3 140,1254.3" fill="#347f9f" opacity="0.35"/>
<polygon points="140,1254.3 166,1246.3 192,1238.8 218,1231.7 244,1225.1 270,1219.0 296,1213.4 322,1208.2 348,1203.5 374,1199.3 400,1195.5 426,1192.3 452,1189.5 478,1187.1 504,1185.3 530,1183.9 556,1183.0 582,1182.6 608,1182.6 634,1183.1 660,1184.1 660,1205.9 634,1204.7 608,1203.9 582,1203.5 556,1203.7 530,1204.3 504,1205.4 478,1207.0 452,1209.0 426,1211.5 400,1214.5 374,1218.0 348,1221.9 322,1226.3 296,1231.2 270,1236.6 244,1242.4 218,1248.7 192,1255.5 166,1262.7 140,1270.4" fill="#58abc8" opacity="0.33"/>
<polygon points="140,1270.4 166,1262.7 192,1255.5 218,1248.7 244,1242.4 270,1236.6 296,1231.2 322,1226.3 348,1221.9 374,1218.0 400,1214.5 426,1211.5 452,1209.0 478,1207.0 504,1205.4 530,1204.3 556,1203.7 582,1203.5 608,1203.9 634,1204.7 660,1205.9 660,1241.0 634,1239.2 608,1238.0 582,1237.2 556,1236.9 530,1237.0 504,1237.7 478,1238.8 452,1240.4 426,1242.4 400,1245.0 374,1248.0 348,1251.4 322,1255.4 296,1259.8 270,1264.7 244,1270.1 218,1275.9 192,1282.2 166,1289.0 140,1296.3" fill="#2f7da5" opacity="0.28"/>
<polygon points="140,1296.3 166,1289.0 192,1282.2 218,1275.9 244,1270.1 270,1264.7 296,1259.8 322,1255.4 348,1251.4 374,1248.0 400,1245.0 426,1242.4 452,1240.4 478,1238.8 504,1237.7 530,1237.0 556,1236.9 582,1237.2 608,1238.0 634,1239.2 660,1241.0 660,1252.1 634,1250.2 608,1248.8 582,1247.9 556,1247.5 530,1247.5 504,1248.0 478,1248.9 452,1250.4 426,1252.3 400,1254.7 374,1257.5 348,1260.8 322,1264.7 296,1268.9 270,1273.7 244,1278.9 218,1284.6 192,1290.8 166,1297.4 140,1304.5" fill="#347f9f" opacity="0.35"/>
<polygon points="140,1304.5 166,1297.4 192,1290.8 218,1284.6 244,1278.9 270,1273.7 296,1268.9 322,1264.7 348,1260.8 374,1257.5 400,1254.7 426,1252.3 452,1250.4 478,1248.9 504,1248.0 530,1247.5 556,1247.5 582,1247.9 608,1248.8 634,1250.2 660,1252.1 660,1274.0 634,1271.8 608,1270.1 582,1268.9 556,1268.1 530,1267.9 504,1268.1 478,1268.8 452,1269.9 426,1271.5 400,1273.6 374,1276.2 348,1279.2 322,1282.8 296,1286.8 270,1291.2 244,1296.2 218,1301.6 192,1307.4 166,1313.8 140,1320.6" fill="#58abc8" opacity="0.33"/>
<polygon points="140,1320.6 166,1313.8 192,1307.4 218,1301.6 244,1296.2 270,1291.2 296,1286.8 322,1282.8 348,1279.2 374,1276.2 400,1273.6 426,1271.5 452,1269.9 478,1268.8 504,1268.1 530,1267.9 556,1268.1 582,1268.9 608,1270.1 634,1271.8 660,1274.0 660,1309.0 634,1306.4 608,1304.2 582,1302.5 556,1301.3 530,1300.6 504,1300.4 478,1300.6 452,1301.3 426,1302.4 400,1304.1 374,1306.2 348,1308.8 322,1311.8 296,1315.4 270,1319.4 244,1323.8 218,1328.8 192,1334.2 166,1340.1 140,1346.5" fill="#2f7da5" opacity="0.28"/>
<polygon points="140,1346.5 166,1340.1 192,1334.2 218,1328.8 244,1323.8 270,1319.4 296,1315.4 322,1311.8 348,1308.8 374,1306.2 400,1304.1 426,1302.4 452,1301.3 478,1300.6 504,1300.4 530,1300.6 556,1301.3 582,1302.5 608,1304.2 634,1306.4 660,1309.0 660,1320.2 634,1317.4 608,1315.1 582,1313.3 556,1311.9 530,1311.0 504,1310.6 478,1310.7 452,1311.3 426,1312.3 400,1313.8 374,1315.7 348,1318.2 322,1321.1 296,1324.5 270,1328.3 244,1332.7 218,1337.5 192,1342.7 166,1348.5 140,1354.7" fill="#347f9f" opacity="0.35"/>
<polygon points="140,1354.7 166,1348.5 192,1342.7 218,1337.5 244,1332.7 270,1328.3 296,1324.5 322,1321.1 348,1318.2 374,1315.7 400,1313.8 426,1312.3 452,1311.3 478,1310.7 504,1310.6 530,1311.0 556,1311.9 582,1313.3 608,1315.1 634,1317.4 660,1320.2 660,1342.0 634,1338.9 608,1336.3 582,1334.2 556,1332.6 530,1331.4 504,1330.8 478,1330.5 452,1330.8 426,1331.5 400,1332.7 374,1334.4 348,1336.6 322,1339.2 296,1342.3 270,1345.9 244,1349.9 218,1354.4 192,1359.4 166,1364.9 140,1370.8" fill="#58abc8" opacity="0.33"/>
<polygon points="140,1370.8 166,1364.9 192,1359.4 218,1354.4 244,1349.9 270,1345.9 296,1342.3 322,1339.2 348,1336.6 374,1334.4 400,1332.7 426,1331.5 452,1330.8 478,1330.5 504,1330.8 530,1331.4 556,1332.6 582,1334.2 608,1336.3 634,1338.9 660,1342.0 660,1377.0 634,1373.5 608,1370.5 582,1367.9 556,1365.8 530,1364.2 504,1363.0 478,1362.4 452,1362.2 426,1362.4 400,1363.2 374,1364.4 348,1366.1 322,1368.3 296,1370.9 270,1374.0 244,1377.6 218,1381.7 192,1386.2 166,1391.2 140,1396.7" fill="#2f7da5" opacity="0.28"/>
<polyline points="140,794.2 166,778.1 192,762.4 218,747.1 244,732.4 270,718.1 296,704.3 322,691.0 348,678.1 374,665.7 400,653.8 426,642.4 452,631.4 478,620.9 504,610.9 530,601.3 556,592.2 582,583.6 608,575.5 634,567.9 660,560.7" fill="none" stroke="#2a7499" stroke-width="1.5" opacity="0.85"/>
<polyline points="140,802.5 166,786.5 192,770.9 218,755.8 244,741.2 270,727.1 296,713.4 322,700.2 348,687.5 374,675.3 400,663.5 426,652.2 452,641.4 478,631.0 504,621.2 530,611.8 556,602.8 582,594.4 608,586.4 634,578.9 660,571.8" fill="none" stroke="#2a7499" stroke-width="1.5" opacity="0.85"/>
<polyline points="140,818.6 166,802.9 192,787.6 218,772.8 244,758.5 270,744.6 296,731.2 322,718.3 348,705.9 374,694.0 400,682.5 426,671.5 452,660.9 478,650.9 504,641.3 530,632.2 556,623.5 582,615.3 608,607.6 634,600.4 660,593.7" fill="none" stroke="#2a7499" stroke-width="1.5" opacity="0.85"/>
<polyline points="140,844.4 166,829.2 192,814.4 218,800.0 244,786.2 270,772.8 296,759.8 322,747.4 348,735.4 374,723.9 400,712.9 426,702.4 452,692.3 478,682.7 504,673.5 530,664.9 556,656.7 582,649.0 608,641.8 634,635.0 660,628.7" fill="none" stroke="#2a7499" stroke-width="1.5" opacity="0.85"/>
<polyline points="140,852.7 166,837.6 192,822.9 218,808.7 244,795.0 270,781.7 296,769.0 322,756.7 348,744.8 374,733.5 400,722.6 426,712.2 452,702.3 478,692.8 504,683.8 530,675.3 556,667.3 582,659.7 608,652.6 634,646.0 660,639.9" fill="none" stroke="#2a7499" stroke-width="1.5" opacity="0.85"/>
<polyline points="140,868.8 166,854.0 192,839.6 218,825.7 244,812.2 270,799.3 296,786.8 322,774.8 348,763.2 374,752.2 400,741.6 426,731.5 452,721.8 478,712.7 504,704.0 530,695.7 556,688.0 582,680.7 608,673.9 634,667.6 660,661.7" fill="none" stroke="#2a7499" stroke-width="1.5" opacity="0.85"/>
<polyline points="140,894.7 166,880.3 192,866.3 218,852.9 244,839.9 270,827.4 296,815.4 322,803.8 348,792.8 374,782.2 400,772.0 426,762.4 452,753.2 478,744.5 504,736.2 530,728.5 556,721.2 582,714.3 608,708.0 634,702.1 660,696.7" fill="none" stroke="#2a7499" stroke-width="1.5" opacity="0.85"/>
<polyline points="140,902.9 166,888.6 192,874.9 218,861.6 244,848.8 270,836.4 296,824.5 322,813.1 348,802.2 374,791.7 400,781.7 426,772.2 452,763.2 478,754.6 504,746.5 530,738.9 556,731.8 582,725.1 608,718.9 634,713.1 660,707.9" fill="none" stroke="#2a7499" stroke-width="1.5" opacity="0.85"/>
<polyline points="140,919.0 166,905.0 192,891.6 218,878.5 244,866.0 270,853.9 296,842.3 322,831.2 348,820.6 374,810.4 400,800.7 426,791.5 452,782.7 478,774.4 504,766.6 530,759.3 556,752.4 582,746.1 608,740.1 634,734.7 660,729.7" fill="none" stroke="#2a7499" stroke-width="1.5" opacity="0.85"/>
<polyline points="140,944.9 166,931.4 192,918.3 218,905.8 244,893.7 270,882.1 296,871.0 322,860.3 348,850.1 374,840.4 400,831.1 426,822.4 452,814.1 478,806.3 504,798.9 530,792.0 556,785.6 582,779.7 608,774.2 634,769.3 660,764.8" fill="none" stroke="#2a7499" stroke-width="1.5" opacity="0.85"/>
<polyline points="140,953.1 166,939.7 192,926.9 218,914.5 244,902.5 270,891.1 296,880.1 322,869.6 348,859.5 374,849.9 400,840.9 426,832.2 452,824.1 478,816.4 504,809.2 530,802.5 556,796.2 582,790.4 608,785.1 634,780.3 660,775.9" fill="none" stroke="#2a7499" stroke-width="1.5" opacity="0.85"/>
<polyline points="140,969.2 166,956.1 192,943.5 218,931.4 244,919.8 270,908.6 296,897.9 322,887.7 348,877.9 374,868.6 400,859.8 426,851.5 452,843.6 478,836.2 504,829.3 530,822.9 556,816.9 582,811.4 608,806.4 634,801.8 660,797.8" fill="none" stroke="#2a7499" stroke-width="1.5" opacity="0.85"/>
<polyline points="140,995.1 166,982.4 192,970.3 218,958.7 244,947.5 270,936.7 296,926.5 322,916.7 348,907.4 374,898.6 400,890.3 426,882.4 452,875.0 478,868.0 504,861.6 530,855.6 556,850.1 582,845.1 608,840.5 634,836.4 660,832.8" fill="none" stroke="#2a7499" stroke-width="1.5" opacity="0.85"/>
<polyline points="140,1003.3 166,990.8 192,978.8 218,967.3 244,956.3 270,945.7 296,935.6 322,926.0 348,916.8 374,908.2 400,900.0 426,892.2 452,885.0 478,878.2 504,871.9 530,866.0 556,860.7 582,855.8 608,851.4 634,847.4 660,844.0" fill="none" stroke="#2a7499" stroke-width="1.5" opacity="0.85"/>
<polyline points="140,1019.4 166,1007.2 192,995.5 218,984.3 244,973.5 270,963.3 296,953.4 322,944.1 348,935.2 374,926.9 400,918.9 426,911.5 452,904.5 478,898.0 504,892.0 530,886.4 556,881.4 582,876.8 608,872.6 634,869.0 660,865.8" fill="none" stroke="#2a7499" stroke-width="1.5" opacity="0.85"/>
<polyline points="140,1045.3 166,1033.5 192,1022.3 218,1011.5 244,1001.2 270,991.4 296,982.1 322,973.2 348,964.8 374,956.8 400,949.4 426,942.4 452,935.9 478,929.8 504,924.3 530,919.2 556,914.6 582,910.4 608,906.7 634,903.5 660,900.8" fill="none" stroke="#2a7499" stroke-width="1.5" opacity="0.85"/>
<polyline points="140,1053.5 166,1041.9 192,1030.8 218,1020.2 244,1010.1 270,1000.4 296,991.2 322,982.4 348,974.2 374,966.4 400,959.1 426,952.2 452,945.9 478,940.0 504,934.6 530,929.6 556,925.1 582,921.1 608,917.6 634,914.6 660,912.0" fill="none" stroke="#2a7499" stroke-width="1.5" opacity="0.85"/>
<polyline points="140,1069.6 166,1058.3 192,1047.5 218,1037.2 244,1027.3 270,1017.9 296,1009.0 322,1000.6 348,992.6 374,985.1 400,978.1 426,971.5 452,965.4 478,959.8 504,954.7 530,950.0 556,945.8 582,942.1 608,938.9 634,936.1 660,933.8" fill="none" stroke="#2a7499" stroke-width="1.5" opacity="0.85"/>
<polyline points="140,1095.5 166,1084.6 192,1074.3 218,1064.4 244,1055.0 270,1046.1 296,1037.6 322,1029.6 348,1022.1 374,1015.1 400,1008.5 426,1002.4 452,996.8 478,991.6 504,987.0 530,982.8 556,979.0 582,975.8 608,973.0 634,970.7 660,968.8" fill="none" stroke="#2a7499" stroke-width="1.5" opacity="0.85"/>
<polyline points="140,1103.7 166,1093.0 192,1082.8 218,1073.1 244,1063.8 270,1055.0 296,1046.7 322,1038.9 348,1031.5 374,1024.6 400,1018.2 426,1012.2 452,1006.8 478,1001.8 504,997.2 530,993.2 556,989.6 582,986.5 608,983.9 634,981.7 660,980.0" fill="none" stroke="#2a7499" stroke-width="1.5" opacity="0.85"/>
<polyline points="140,1119.8 166,1109.4 192,1099.5 218,1090.1 244,1081.1 270,1072.6 296,1064.5 322,1057.0 348,1049.9 374,1043.3 400,1037.2 426,1031.5 452,1026.3 478,1021.6 504,1017.4 530,1013.6 556,1010.3 582,1007.5 608,1005.1 634,1003.2 660,1001.8" fill="none" stroke="#2a7499" stroke-width="1.5" opacity="0.85"/>
<polyline points="140,1145.7 166,1135.7 192,1126.3 218,1117.3 244,1108.8 270,1100.7 296,1093.2 322,1086.1 348,1079.4 374,1073.3 400,1067.6 426,1062.4 452,1057.7 478,1053.4 504,1049.6 530,1046.3 556,1043.5 582,1041.1 608,1039.2 634,1037.8 660,1036.9" fill="none" stroke="#2a7499" stroke-width="1.5" opacity="0.85"/>
<polyline points="140,1153.9 166,1144.1 192,1134.8 218,1126.0 244,1117.6 270,1109.7 296,1102.3 322,1095.3 348,1088.8 374,1082.8 400,1077.3 426,1072.3 452,1067.7 478,1063.6 504,1059.9 530,1056.8 556,1054.1 582,1051.9 608,1050.1 634,1048.8 660,1048.0" fill="none" stroke="#2a7499" stroke-width="1.5" opacity="0.85"/>
<polyline points="140,1170.0 166,1160.5 192,1151.5 218,1142.9 244,1134.8 270,1127.2 296,1120.1 322,1113.4 348,1107.2 374,1101.5 400,1096.3 426,1091.5 452,1087.2 478,1083.4 504,1080.0 530,1077.2 556,1074.8 582,1072.8 608,1071.4 634,1070.4 660,1069.9" fill="none" stroke="#2a7499" stroke-width="1.5" opacity="0.85"/>
<polyline points="140,1195.9 166,1186.8 192,1178.3 218,1170.2 244,1162.5 270,1155.4 296,1148.7 322,1142.5 348,1136.8 374,1131.5 400,1126.7 426,1122.4 452,1118.6 478,1115.2 504,1112.3 530,1109.9 556,1107.9 582,1106.5 608,1105.5 634,1104.9 660,1104.9" fill="none" stroke="#2a7499" stroke-width="1.5" opacity="0.85"/>
<polyline points="140,1204.1 166,1195.2 192,1186.8 218,1178.8 244,1171.4 270,1164.4 296,1157.8 322,1151.8 348,1146.2 374,1141.1 400,1136.4 426,1132.3 452,1128.6 478,1125.4 504,1122.6 530,1120.3 556,1118.5 582,1117.2 608,1116.4 634,1116.0 660,1116.1" fill="none" stroke="#2a7499" stroke-width="1.5" opacity="0.85"/>
<polyline points="140,1220.2 166,1211.6 192,1203.5 218,1195.8 244,1188.6 270,1181.9 296,1175.7 322,1169.9 348,1164.6 374,1159.8 400,1155.4 426,1151.5 452,1148.1 478,1145.2 504,1142.7 530,1140.7 556,1139.2 582,1138.2 608,1137.6 634,1137.5 660,1137.9" fill="none" stroke="#2a7499" stroke-width="1.5" opacity="0.85"/>
<polyline points="140,1246.1 166,1237.9 192,1230.2 218,1223.0 244,1216.3 270,1210.0 296,1204.3 322,1198.9 348,1194.1 374,1189.7 400,1185.8 426,1182.4 452,1179.5 478,1177.0 504,1175.0 530,1173.5 556,1172.4 582,1171.8 608,1171.7 634,1172.1 660,1172.9" fill="none" stroke="#2a7499" stroke-width="1.5" opacity="0.85"/>
<polyline points="140,1254.3 166,1246.3 192,1238.8 218,1231.7 244,1225.1 270,1219.0 296,1213.4 322,1208.2 348,1203.5 374,1199.3 400,1195.5 426,1192.3 452,1189.5 478,1187.1 504,1185.3 530,1183.9 556,1183.0 582,1182.6 608,1182.6 634,1183.1 660,1184.1" fill="none" stroke="#2a7499" stroke-width="1.5" opacity="0.85"/>
<polyline points="140,1270.4 166,1262.7 192,1255.5 218,1248.7 244,1242.4 270,1236.6 296,1231.2 322,1226.3 348,1221.9 374,1218.0 400,1214.5 426,1211.5 452,1209.0 478,1207.0 504,1205.4 530,1204.3 556,1203.7 582,1203.5 608,1203.9 634,1204.7 660,1205.9" fill="none" stroke="#2a7499" stroke-width="1.5" opacity="0.85"/>
<polyline points="140,1296.3 166,1289.0 192,1282.2 218,1275.9 244,1270.1 270,1264.7 296,1259.8 322,1255.4 348,1251.4 374,1248.0 400,1245.0 426,1242.4 452,1240.4 478,1238.8 504,1237.7 530,1237.0 556,1236.9 582,1237.2 608,1238.0 634,1239.2 660,1241.0" fill="none" stroke="#2a7499" stroke-width="1.5" opacity="0.85"/>
<polyline points="140,1304.5 166,1297.4 192,1290.8 218,1284.6 244,1278.9 270,1273.7 296,1268.9 322,1264.7 348,1260.8 374,1257.5 400,1254.7 426,1252.3 452,1250.4 478,1248.9 504,1248.0 530,1247.5 556,1247.5 582,1247.9 608,1248.8 634,1250.2 660,1252.1" fill="none" stroke="#2a7499" stroke-width="1.5" opacity="0.85"/>
<polyline points="140,1320.6 166,1313.8 192,1307.4 218,1301.6 244,1296.2 270,1291.2 296,1286.8 322,1282.8 348,1279.2 374,1276.2 400,1273.6 426,1271.5 452,1269.9 478,1268.8 504,1268.1 530,1267.9 556,1268.1 582,1268.9 608,1270.1 634,1271.8 660,1274.0" fill="none" stroke="#2a7499" stroke-width="1.5" opacity="0.85"/>
<polyline points="140,1346.5 166,1340.1 192,1334.2 218,1328.8 244,1323.8 270,1319.4 296,1315.4 322,1311.8 348,1308.8 374,1306.2 400,1304.1 426,1302.4 452,1301.3 478,1300.6 504,1300.4 530,1300.6 556,1301.3 582,1302.5 608,1304.2 634,1306.4 660,1309.0" fill="none" stroke="#2a7499" stroke-width="1.5" opacity="0.85"/>
<polyline points="140,1354.7 166,1348.5 192,1342.7 218,1337.5 244,1332.7 270,1328.3 296,1324.5 322,1321.1 348,1318.2 374,1315.7 400,1313.8 426,1312.3 452,1311.3 478,1310.7 504,1310.6 530,1311.0 556,1311.9 582,1313.3 608,1315.1 634,1317.4 660,1320.2" fill="none" stroke="#2a7499" stroke-width="1.5" opacity="0.85"/>
<polyline points="140,1370.8 166,1364.9 192,1359.4 218,1354.4 244,1349.9 270,1345.9 296,1342.3 322,1339.2 348,1336.6 374,1334.4 400,1332.7 426,1331.5 452,1330.8 478,1330.5 504,1330.8 530,1331.4 556,1332.6 582,1334.2 608,1336.3 634,1338.9 660,1342.0" fill="none" stroke="#2a7499" stroke-width="1.5" opacity="0.85"/>
<g stroke="#2a7499" stroke-width="1.5" fill="none" opacity="0.85">
<path d="M628.5 809 L641.5 1080"/>
<path d="M605.1 809 L615.0 1080"/>
<path d="M582.0 809 L588.8 1080"/>
<path d="M559.1 809 L562.9 1080"/>
<path d="M536.5 809 L537.3 1080"/>
<path d="M514.1 809 L512.0 1080"/>
<path d="M492.0 809 L487.0 1080"/>
<path d="M470.2 809 L462.3 1080"/>
<path d="M448.6 809 L437.9 1080"/>
<path d="M427.3 809 L413.7 1080"/>
<path d="M406.2 809 L389.9 1080"/>
<path d="M385.4 809 L366.4 1080"/>
<path d="M364.9 809 L343.1 1080"/>
<path d="M344.6 809 L320.2 1080"/>
<path d="M324.6 809 L297.5 1080"/>
<path d="M304.8 809 L275.1 1080"/>
<path d="M285.3 809 L253.1 1080"/>
<path d="M266.1 809 L231.3 1080"/>
<path d="M247.1 809 L209.8 1080"/>
<path d="M228.4 809 L188.6 1080"/>
<path d="M209.9 809 L167.7 1080"/>
<path d="M191.7 809 L147.1 1080"/>
<path d="M173.8 809 L126.8 1080"/>
<path d="M156.1 809 L106.8 1080"/>
</g>
<rect x="150" y="800" width="330" height="280" fill="url(#tealO)"/>
</g>
<polygon points="628,800 775,800 806,1080 642,1080" fill="url(#glassR)"/>
<g clip-path="url(#cGR)">
<polygon points="620,497.4 641,507.0 662,516.3 683,525.5 704,534.5 725,543.4 746,552.0 767,560.5 788,568.8 809,576.9 830,584.9 830,595.1 809,587.2 788,579.2 767,571.0 746,562.6 725,554.0 704,545.2 683,536.3 662,527.2 641,517.9 620,508.5" fill="#5aa2d6" opacity="0.6"/>
<polygon points="620,508.5 641,517.9 662,527.2 683,536.3 704,545.2 725,554.0 746,562.6 767,571.0 788,579.2 809,587.2 830,595.1 830,615.1 809,607.4 788,599.5 767,591.4 746,583.2 725,574.8 704,566.2 683,557.4 662,548.5 641,539.3 620,530.1" fill="#66aedc" opacity="0.75"/>
<polygon points="620,530.1 641,539.3 662,548.5 683,557.4 704,566.2 725,574.8 746,583.2 767,591.4 788,599.5 809,607.4 830,615.1 830,647.2 809,639.7 788,632.1 767,624.3 746,616.3 725,608.1 704,599.8 683,591.3 662,582.6 641,573.7 620,564.7" fill="#4690ca" opacity="0.3"/>
<polygon points="620,564.7 641,573.7 662,582.6 683,591.3 704,599.8 725,608.1 746,616.3 767,624.3 788,632.1 809,639.7 830,647.2 830,657.4 809,650.0 788,642.5 767,634.7 746,626.8 725,618.8 704,610.5 683,602.1 662,593.5 641,584.7 620,575.7" fill="#5aa2d6" opacity="0.6"/>
<polygon points="620,575.7 641,584.7 662,593.5 683,602.1 704,610.5 725,618.8 746,626.8 767,634.7 788,642.5 809,650.0 830,657.4 830,677.4 809,670.2 788,662.8 767,655.2 746,647.5 725,639.5 704,631.4 683,623.2 662,614.7 641,606.1 620,597.3" fill="#66aedc" opacity="0.75"/>
<polygon points="620,597.3 641,606.1 662,614.7 683,623.2 704,631.4 725,639.5 746,647.5 767,655.2 788,662.8 809,670.2 830,677.4 830,709.5 809,702.5 788,695.4 767,688.1 746,680.6 725,672.9 704,665.1 683,657.0 662,648.8 641,640.5 620,631.9" fill="#4690ca" opacity="0.3"/>
<polygon points="620,631.9 641,640.5 662,648.8 683,657.0 704,665.1 725,672.9 746,680.6 767,688.1 788,695.4 809,702.5 830,709.5 830,719.7 809,712.8 788,705.8 767,698.5 746,691.1 725,683.5 704,675.8 683,667.8 662,659.7 641,651.4 620,642.9" fill="#5aa2d6" opacity="0.6"/>
<polygon points="620,642.9 641,651.4 662,659.7 683,667.8 704,675.8 725,683.5 746,691.1 767,698.5 788,705.8 809,712.8 830,719.7 830,739.7 809,733.0 788,726.1 767,719.0 746,711.7 725,704.3 704,696.7 683,688.9 662,681.0 641,672.8 620,664.5" fill="#66aedc" opacity="0.75"/>
<polygon points="620,664.5 641,672.8 662,681.0 683,688.9 704,696.7 725,704.3 746,711.7 767,719.0 788,726.1 809,733.0 830,739.7 830,771.8 809,765.3 788,758.7 767,751.8 746,744.8 725,737.7 704,730.3 683,722.8 662,715.1 641,707.2 620,699.1" fill="#4690ca" opacity="0.3"/>
<polygon points="620,699.1 641,707.2 662,715.1 683,722.8 704,730.3 725,737.7 746,744.8 767,751.8 788,758.7 809,765.3 830,771.8 830,782.0 809,775.6 788,769.1 767,762.3 746,755.4 725,748.3 704,741.0 683,733.6 662,726.0 641,718.2 620,710.2" fill="#5aa2d6" opacity="0.6"/>
<polygon points="620,710.2 641,718.2 662,726.0 683,733.6 704,741.0 725,748.3 746,755.4 767,762.3 788,769.1 809,775.6 830,782.0 830,802.0 809,795.8 788,789.4 767,782.8 746,776.0 725,769.1 704,762.0 683,754.7 662,747.2 641,739.6 620,731.8" fill="#66aedc" opacity="0.75"/>
<polygon points="620,731.8 641,739.6 662,747.2 683,754.7 704,762.0 725,769.1 746,776.0 767,782.8 788,789.4 809,795.8 830,802.0 830,834.1 809,828.1 788,822.0 767,815.6 746,809.1 725,802.4 704,795.6 683,788.5 662,781.3 641,773.9 620,766.4" fill="#4690ca" opacity="0.3"/>
<polygon points="620,766.4 641,773.9 662,781.3 683,788.5 704,795.6 725,802.4 746,809.1 767,815.6 788,822.0 809,828.1 830,834.1 830,844.3 809,838.4 788,832.4 767,826.1 746,819.7 725,813.1 704,806.3 683,799.3 662,792.2 641,784.9 620,777.4" fill="#5aa2d6" opacity="0.6"/>
<polygon points="620,777.4 641,784.9 662,792.2 683,799.3 704,806.3 725,813.1 746,819.7 767,826.1 788,832.4 809,838.4 830,844.3 830,864.3 809,858.6 788,852.7 767,846.6 746,840.3 725,833.9 704,827.2 683,820.4 662,813.5 641,806.3 620,799.0" fill="#66aedc" opacity="0.75"/>
<polygon points="620,799.0 641,806.3 662,813.5 683,820.4 704,827.2 725,833.9 746,840.3 767,846.6 788,852.7 809,858.6 830,864.3 830,896.4 809,890.9 788,885.3 767,879.4 746,873.4 725,867.2 704,860.8 683,854.3 662,847.6 641,840.7 620,833.6" fill="#4690ca" opacity="0.3"/>
<polygon points="620,833.6 641,840.7 662,847.6 683,854.3 704,860.8 725,867.2 746,873.4 767,879.4 788,885.3 809,890.9 830,896.4 830,906.6 809,901.2 788,895.7 767,889.9 746,884.0 725,877.8 704,871.6 683,865.1 662,858.5 641,851.6 620,844.6" fill="#5aa2d6" opacity="0.6"/>
<polygon points="620,844.6 641,851.6 662,858.5 683,865.1 704,871.6 725,877.8 746,884.0 767,889.9 788,895.7 809,901.2 830,906.6 830,926.6 809,921.4 788,916.0 767,910.4 746,904.6 725,898.6 704,892.5 683,886.2 662,879.7 641,873.1 620,866.2" fill="#66aedc" opacity="0.75"/>
<polygon points="620,866.2 641,873.1 662,879.7 683,886.2 704,892.5 725,898.6 746,904.6 767,910.4 788,916.0 809,921.4 830,926.6 830,958.7 809,953.7 788,948.6 767,943.2 746,937.7 725,932.0 704,926.1 683,920.1 662,913.8 641,907.4 620,900.8" fill="#4690ca" opacity="0.3"/>
<polygon points="620,900.8 641,907.4 662,913.8 683,920.1 704,926.1 725,932.0 746,937.7 767,943.2 788,948.6 809,953.7 830,958.7 830,969.0 809,964.0 788,958.9 767,953.7 746,948.2 725,942.6 704,936.8 683,930.9 662,924.7 641,918.4 620,911.9" fill="#5aa2d6" opacity="0.6"/>
<polygon points="620,911.9 641,918.4 662,924.7 683,930.9 704,936.8 725,942.6 746,948.2 767,953.7 788,958.9 809,964.0 830,969.0 830,988.9 809,984.2 788,979.3 767,974.2 746,968.9 725,963.4 704,957.8 683,952.0 662,946.0 641,939.8 620,933.5" fill="#66aedc" opacity="0.75"/>
<polygon points="620,933.5 641,939.8 662,946.0 683,952.0 704,957.8 725,963.4 746,968.9 767,974.2 788,979.3 809,984.2 830,988.9 830,1021.0 809,1016.5 788,1011.9 767,1007.0 746,1002.0 725,996.8 704,991.4 683,985.8 662,980.1 641,974.2 620,968.1" fill="#4690ca" opacity="0.3"/>
<polygon points="620,968.1 641,974.2 662,980.1 683,985.8 704,991.4 725,996.8 746,1002.0 767,1007.0 788,1011.9 809,1016.5 830,1021.0 830,1031.3 809,1026.8 788,1022.2 767,1017.5 746,1012.5 725,1007.4 704,1002.1 683,996.6 662,991.0 641,985.1 620,979.1" fill="#5aa2d6" opacity="0.6"/>
<polygon points="620,979.1 641,985.1 662,991.0 683,996.6 704,1002.1 725,1007.4 746,1012.5 767,1017.5 788,1022.2 809,1026.8 830,1031.3 830,1051.3 809,1047.0 788,1042.6 767,1037.9 746,1033.1 725,1028.2 704,1023.0 683,1017.7 662,1012.2 641,1006.5 620,1000.7" fill="#66aedc" opacity="0.75"/>
<polygon points="620,1000.7 641,1006.5 662,1012.2 683,1017.7 704,1023.0 725,1028.2 746,1033.1 767,1037.9 788,1042.6 809,1047.0 830,1051.3 830,1083.3 809,1079.3 788,1075.1 767,1070.8 746,1066.2 725,1061.5 704,1056.6 683,1051.6 662,1046.3 641,1040.9 620,1035.3" fill="#4690ca" opacity="0.3"/>
<polygon points="620,1035.3 641,1040.9 662,1046.3 683,1051.6 704,1056.6 725,1061.5 746,1066.2 767,1070.8 788,1075.1 809,1079.3 830,1083.3 830,1093.6 809,1089.6 788,1085.5 767,1081.3 746,1076.8 725,1072.2 704,1067.4 683,1062.4 662,1057.2 641,1051.9 620,1046.4" fill="#5aa2d6" opacity="0.6"/>
<polygon points="620,1046.4 641,1051.9 662,1057.2 683,1062.4 704,1067.4 725,1072.2 746,1076.8 767,1081.3 788,1085.5 809,1089.6 830,1093.6 830,1113.6 809,1109.8 788,1105.8 767,1101.7 746,1097.4 725,1093.0 704,1088.3 683,1083.5 662,1078.5 641,1073.3 620,1067.9" fill="#66aedc" opacity="0.75"/>
<polygon points="620,1067.9 641,1073.3 662,1078.5 683,1083.5 704,1088.3 725,1093.0 746,1097.4 767,1101.7 788,1105.8 809,1109.8 830,1113.6 830,1145.7 809,1142.1 788,1138.4 767,1134.6 746,1130.5 725,1126.3 704,1121.9 683,1117.3 662,1112.6 641,1107.7 620,1102.5" fill="#4690ca" opacity="0.3"/>
<polygon points="620,1102.5 641,1107.7 662,1112.6 683,1117.3 704,1121.9 725,1126.3 746,1130.5 767,1134.6 788,1138.4 809,1142.1 830,1145.7 830,1155.9 809,1152.4 788,1148.8 767,1145.0 746,1141.1 725,1136.9 704,1132.6 683,1128.1 662,1123.5 641,1118.6 620,1113.6" fill="#5aa2d6" opacity="0.6"/>
<polygon points="620,1113.6 641,1118.6 662,1123.5 683,1128.1 704,1132.6 725,1136.9 746,1141.1 767,1145.0 788,1148.8 809,1152.4 830,1155.9 830,1175.9 809,1172.6 788,1169.1 767,1165.5 746,1161.7 725,1157.7 704,1153.6 683,1149.2 662,1144.7 641,1140.0 620,1135.2" fill="#66aedc" opacity="0.75"/>
<polygon points="620,1135.2 641,1140.0 662,1144.7 683,1149.2 704,1153.6 725,1157.7 746,1161.7 767,1165.5 788,1169.1 809,1172.6 830,1175.9 830,1208.0 809,1204.9 788,1201.7 767,1198.4 746,1194.8 725,1191.1 704,1187.2 683,1183.1 662,1178.8 641,1174.4 620,1169.8" fill="#4690ca" opacity="0.3"/>
<polygon points="620,1169.8 641,1174.4 662,1178.8 683,1183.1 704,1187.2 725,1191.1 746,1194.8 767,1198.4 788,1201.7 809,1204.9 830,1208.0 830,1218.2 809,1215.2 788,1212.1 767,1208.8 746,1205.4 725,1201.7 704,1197.9 683,1193.9 662,1189.7 641,1185.4 620,1180.8" fill="#5aa2d6" opacity="0.6"/>
<polygon points="620,1180.8 641,1185.4 662,1189.7 683,1193.9 704,1197.9 725,1201.7 746,1205.4 767,1208.8 788,1212.1 809,1215.2 830,1218.2 830,1238.2 809,1235.4 788,1232.4 767,1229.3 746,1226.0 725,1222.5 704,1218.8 683,1215.0 662,1211.0 641,1206.8 620,1202.4" fill="#66aedc" opacity="0.75"/>
<polygon points="620,1202.4 641,1206.8 662,1211.0 683,1215.0 704,1218.8 725,1222.5 746,1226.0 767,1229.3 788,1232.4 809,1235.4 830,1238.2 830,1270.3 809,1267.7 788,1265.0 767,1262.1 746,1259.1 725,1255.8 704,1252.4 683,1248.8 662,1245.1 641,1241.1 620,1237.0" fill="#4690ca" opacity="0.3"/>
<polygon points="620,1237.0 641,1241.1 662,1245.1 683,1248.8 704,1252.4 725,1255.8 746,1259.1 767,1262.1 788,1265.0 809,1267.7 830,1270.3 830,1280.5 809,1278.0 788,1275.4 767,1272.6 746,1269.6 725,1266.5 704,1263.1 683,1259.6 662,1256.0 641,1252.1 620,1248.1" fill="#5aa2d6" opacity="0.6"/>
<polygon points="620,1248.1 641,1252.1 662,1256.0 683,1259.6 704,1263.1 725,1266.5 746,1269.6 767,1272.6 788,1275.4 809,1278.0 830,1280.5 830,1300.5 809,1298.2 788,1295.7 767,1293.1 746,1290.3 725,1287.3 704,1284.1 683,1280.7 662,1277.2 641,1273.5 620,1269.6" fill="#66aedc" opacity="0.75"/>
<polygon points="620,1269.6 641,1273.5 662,1277.2 683,1280.7 704,1284.1 725,1287.3 746,1290.3 767,1293.1 788,1295.7 809,1298.2 830,1300.5 830,1332.6 809,1330.5 788,1328.3 767,1325.9 746,1323.4 725,1320.6 704,1317.7 683,1314.6 662,1311.3 641,1307.9 620,1304.3" fill="#4690ca" opacity="0.3"/>
<polyline points="620,497.4 641,507.0 662,516.3 683,525.5 704,534.5 725,543.4 746,552.0 767,560.5 788,568.8 809,576.9 830,584.9" fill="none" stroke="#3a80b8" stroke-width="1.5" opacity="0.85"/>
<polyline points="620,508.5 641,517.9 662,527.2 683,536.3 704,545.2 725,554.0 746,562.6 767,571.0 788,579.2 809,587.2 830,595.1" fill="none" stroke="#3a80b8" stroke-width="1.5" opacity="0.85"/>
<polyline points="620,530.1 641,539.3 662,548.5 683,557.4 704,566.2 725,574.8 746,583.2 767,591.4 788,599.5 809,607.4 830,615.1" fill="none" stroke="#3a80b8" stroke-width="1.5" opacity="0.85"/>
<polyline points="620,564.7 641,573.7 662,582.6 683,591.3 704,599.8 725,608.1 746,616.3 767,624.3 788,632.1 809,639.7 830,647.2" fill="none" stroke="#3a80b8" stroke-width="1.5" opacity="0.85"/>
<polyline points="620,575.7 641,584.7 662,593.5 683,602.1 704,610.5 725,618.8 746,626.8 767,634.7 788,642.5 809,650.0 830,657.4" fill="none" stroke="#3a80b8" stroke-width="1.5" opacity="0.85"/>
<polyline points="620,597.3 641,606.1 662,614.7 683,623.2 704,631.4 725,639.5 746,647.5 767,655.2 788,662.8 809,670.2 830,677.4" fill="none" stroke="#3a80b8" stroke-width="1.5" opacity="0.85"/>
<polyline points="620,631.9 641,640.5 662,648.8 683,657.0 704,665.1 725,672.9 746,680.6 767,688.1 788,695.4 809,702.5 830,709.5" fill="none" stroke="#3a80b8" stroke-width="1.5" opacity="0.85"/>
<polyline points="620,642.9 641,651.4 662,659.7 683,667.8 704,675.8 725,683.5 746,691.1 767,698.5 788,705.8 809,712.8 830,719.7" fill="none" stroke="#3a80b8" stroke-width="1.5" opacity="0.85"/>
<polyline points="620,664.5 641,672.8 662,681.0 683,688.9 704,696.7 725,704.3 746,711.7 767,719.0 788,726.1 809,733.0 830,739.7" fill="none" stroke="#3a80b8" stroke-width="1.5" opacity="0.85"/>
<polyline points="620,699.1 641,707.2 662,715.1 683,722.8 704,730.3 725,737.7 746,744.8 767,751.8 788,758.7 809,765.3 830,771.8" fill="none" stroke="#3a80b8" stroke-width="1.5" opacity="0.85"/>
<polyline points="620,710.2 641,718.2 662,726.0 683,733.6 704,741.0 725,748.3 746,755.4 767,762.3 788,769.1 809,775.6 830,782.0" fill="none" stroke="#3a80b8" stroke-width="1.5" opacity="0.85"/>
<polyline points="620,731.8 641,739.6 662,747.2 683,754.7 704,762.0 725,769.1 746,776.0 767,782.8 788,789.4 809,795.8 830,802.0" fill="none" stroke="#3a80b8" stroke-width="1.5" opacity="0.85"/>
<polyline points="620,766.4 641,773.9 662,781.3 683,788.5 704,795.6 725,802.4 746,809.1 767,815.6 788,822.0 809,828.1 830,834.1" fill="none" stroke="#3a80b8" stroke-width="1.5" opacity="0.85"/>
<polyline points="620,777.4 641,784.9 662,792.2 683,799.3 704,806.3 725,813.1 746,819.7 767,826.1 788,832.4 809,838.4 830,844.3" fill="none" stroke="#3a80b8" stroke-width="1.5" opacity="0.85"/>
<polyline points="620,799.0 641,806.3 662,813.5 683,820.4 704,827.2 725,833.9 746,840.3 767,846.6 788,852.7 809,858.6 830,864.3" fill="none" stroke="#3a80b8" stroke-width="1.5" opacity="0.85"/>
<polyline points="620,833.6 641,840.7 662,847.6 683,854.3 704,860.8 725,867.2 746,873.4 767,879.4 788,885.3 809,890.9 830,896.4" fill="none" stroke="#3a80b8" stroke-width="1.5" opacity="0.85"/>
<polyline points="620,844.6 641,851.6 662,858.5 683,865.1 704,871.6 725,877.8 746,884.0 767,889.9 788,895.7 809,901.2 830,906.6" fill="none" stroke="#3a80b8" stroke-width="1.5" opacity="0.85"/>
<polyline points="620,866.2 641,873.1 662,879.7 683,886.2 704,892.5 725,898.6 746,904.6 767,910.4 788,916.0 809,921.4 830,926.6" fill="none" stroke="#3a80b8" stroke-width="1.5" opacity="0.85"/>
<polyline points="620,900.8 641,907.4 662,913.8 683,920.1 704,926.1 725,932.0 746,937.7 767,943.2 788,948.6 809,953.7 830,958.7" fill="none" stroke="#3a80b8" stroke-width="1.5" opacity="0.85"/>
<polyline points="620,911.9 641,918.4 662,924.7 683,930.9 704,936.8 725,942.6 746,948.2 767,953.7 788,958.9 809,964.0 830,969.0" fill="none" stroke="#3a80b8" stroke-width="1.5" opacity="0.85"/>
<polyline points="620,933.5 641,939.8 662,946.0 683,952.0 704,957.8 725,963.4 746,968.9 767,974.2 788,979.3 809,984.2 830,988.9" fill="none" stroke="#3a80b8" stroke-width="1.5" opacity="0.85"/>
<polyline points="620,968.1 641,974.2 662,980.1 683,985.8 704,991.4 725,996.8 746,1002.0 767,1007.0 788,1011.9 809,1016.5 830,1021.0" fill="none" stroke="#3a80b8" stroke-width="1.5" opacity="0.85"/>
<polyline points="620,979.1 641,985.1 662,991.0 683,996.6 704,1002.1 725,1007.4 746,1012.5 767,1017.5 788,1022.2 809,1026.8 830,1031.3" fill="none" stroke="#3a80b8" stroke-width="1.5" opacity="0.85"/>
<polyline points="620,1000.7 641,1006.5 662,1012.2 683,1017.7 704,1023.0 725,1028.2 746,1033.1 767,1037.9 788,1042.6 809,1047.0 830,1051.3" fill="none" stroke="#3a80b8" stroke-width="1.5" opacity="0.85"/>
<polyline points="620,1035.3 641,1040.9 662,1046.3 683,1051.6 704,1056.6 725,1061.5 746,1066.2 767,1070.8 788,1075.1 809,1079.3 830,1083.3" fill="none" stroke="#3a80b8" stroke-width="1.5" opacity="0.85"/>
<polyline points="620,1046.4 641,1051.9 662,1057.2 683,1062.4 704,1067.4 725,1072.2 746,1076.8 767,1081.3 788,1085.5 809,1089.6 830,1093.6" fill="none" stroke="#3a80b8" stroke-width="1.5" opacity="0.85"/>
<polyline points="620,1067.9 641,1073.3 662,1078.5 683,1083.5 704,1088.3 725,1093.0 746,1097.4 767,1101.7 788,1105.8 809,1109.8 830,1113.6" fill="none" stroke="#3a80b8" stroke-width="1.5" opacity="0.85"/>
<polyline points="620,1102.5 641,1107.7 662,1112.6 683,1117.3 704,1121.9 725,1126.3 746,1130.5 767,1134.6 788,1138.4 809,1142.1 830,1145.7" fill="none" stroke="#3a80b8" stroke-width="1.5" opacity="0.85"/>
<polyline points="620,1113.6 641,1118.6 662,1123.5 683,1128.1 704,1132.6 725,1136.9 746,1141.1 767,1145.0 788,1148.8 809,1152.4 830,1155.9" fill="none" stroke="#3a80b8" stroke-width="1.5" opacity="0.85"/>
<polyline points="620,1135.2 641,1140.0 662,1144.7 683,1149.2 704,1153.6 725,1157.7 746,1161.7 767,1165.5 788,1169.1 809,1172.6 830,1175.9" fill="none" stroke="#3a80b8" stroke-width="1.5" opacity="0.85"/>
<polyline points="620,1169.8 641,1174.4 662,1178.8 683,1183.1 704,1187.2 725,1191.1 746,1194.8 767,1198.4 788,1201.7 809,1204.9 830,1208.0" fill="none" stroke="#3a80b8" stroke-width="1.5" opacity="0.85"/>
<polyline points="620,1180.8 641,1185.4 662,1189.7 683,1193.9 704,1197.9 725,1201.7 746,1205.4 767,1208.8 788,1212.1 809,1215.2 830,1218.2" fill="none" stroke="#3a80b8" stroke-width="1.5" opacity="0.85"/>
<polyline points="620,1202.4 641,1206.8 662,1211.0 683,1215.0 704,1218.8 725,1222.5 746,1226.0 767,1229.3 788,1232.4 809,1235.4 830,1238.2" fill="none" stroke="#3a80b8" stroke-width="1.5" opacity="0.85"/>
<polyline points="620,1237.0 641,1241.1 662,1245.1 683,1248.8 704,1252.4 725,1255.8 746,1259.1 767,1262.1 788,1265.0 809,1267.7 830,1270.3" fill="none" stroke="#3a80b8" stroke-width="1.5" opacity="0.85"/>
<polyline points="620,1248.1 641,1252.1 662,1256.0 683,1259.6 704,1263.1 725,1266.5 746,1269.6 767,1272.6 788,1275.4 809,1278.0 830,1280.5" fill="none" stroke="#3a80b8" stroke-width="1.5" opacity="0.85"/>
<polyline points="620,1269.6 641,1273.5 662,1277.2 683,1280.7 704,1284.1 725,1287.3 746,1290.3 767,1293.1 788,1295.7 809,1298.2 830,1300.5" fill="none" stroke="#3a80b8" stroke-width="1.5" opacity="0.85"/>
<g stroke="#3a80b8" stroke-width="1.5" fill="none" opacity="0.85">
<path d="M628.5 809 L641.5 1080"/>
<path d="M648.9 809 L664.3 1080"/>
<path d="M668.8 809 L686.5 1080"/>
<path d="M688.0 809 L708.1 1080"/>
<path d="M706.8 809 L729.0 1080"/>
<path d="M725.0 809 L749.4 1080"/>
<path d="M742.6 809 L769.1 1080"/>
<path d="M759.8 809 L788.2 1080"/>
<path d="M776.3 809 L806.7 1080"/>
</g></g>
<path d="M628.5 800 L642 1080" stroke="#2c75a6" stroke-width="2.2" fill="none"/>
<polygon points="775.5,800 874.5,800 928,1080 805,1080" fill="#4a8fd0"/>
<g clip-path="url(#cGF)">
<g stroke="#68abe1" stroke-width="13.5" fill="none" opacity="0.6">
<path d="M770 655.0 L935 733.0"/>
<path d="M770 678.0 L935 756.0"/>
<path d="M770 701.0 L935 779.0"/>
<path d="M770 724.0 L935 802.0"/>
<path d="M770 747.0 L935 825.0"/>
<path d="M770 770.0 L935 848.0"/>
<path d="M770 793.0 L935 871.0"/>
<path d="M770 816.0 L935 894.0"/>
<path d="M770 839.0 L935 917.0"/>
<path d="M770 862.0 L935 940.0"/>
<path d="M770 885.0 L935 963.0"/>
<path d="M770 908.0 L935 986.0"/>
<path d="M770 931.0 L935 1009.0"/>
<path d="M770 954.0 L935 1032.0"/>
<path d="M770 977.0 L935 1055.0"/>
<path d="M770 1000.0 L935 1078.0"/>
<path d="M770 1023.0 L935 1101.0"/>
<path d="M770 1046.0 L935 1124.0"/>
<path d="M770 1069.0 L935 1147.0"/>
<path d="M770 1092.0 L935 1170.0"/>
<path d="M770 1115.0 L935 1193.0"/>
<path d="M770 1138.0 L935 1216.0"/>
<path d="M770 1161.0 L935 1239.0"/>
</g>
<g stroke="#4688cb" stroke-width="1.6" fill="none" opacity="0.9">
<path d="M775.0 800 L806.0 1080"/>
<path d="M787.4 800 L821.4 1080"/>
<path d="M799.8 800 L836.8 1080"/>
<path d="M812.2 800 L852.2 1080"/>
<path d="M824.6 800 L867.6 1080"/>
<path d="M837.0 800 L883.0 1080"/>
<path d="M849.4 800 L898.4 1080"/>
<path d="M861.8 800 L913.8 1080"/>
<path d="M874.2 800 L929.2 1080"/>
</g></g>
<path d="M775 800 L806 1080" stroke="#3f86c4" stroke-width="2" fill="none"/>
<polygon points="874.5,800 1040,800 1040,830 955,821 1018.3,1080 928,1080" fill="#4886d2"/>
<g fill="#5c98dc" opacity="0.5" filter="url(#bl)"><ellipse cx="952" cy="965" rx="16" ry="26"/><ellipse cx="935" cy="832" rx="22" ry="10"/><ellipse cx="905" cy="905" rx="10" ry="16"/></g>
<polygon points="929.6,1067.8 1008,1045.7 1020,1080 929,1080" fill="#2d67b8"/>
<g stroke="#5a90d6" stroke-width="1" opacity="0.6" fill="none"><path d="M931 1071 L946 1067 M931 1075 L946 1071 M931 1079 L946 1075"/></g>
<polygon points="954.8,820.7 1032,795.5 1080,769 1080,1080 1018.3,1080" fill="#2962b8"/>
<polygon points="1011,800 1080,769 1080,1080 1072,1080 1061,985" fill="#2f6cc4" opacity="0.85"/>
<g clip-path="url(#cD)">
<g stroke="#1f55a8" stroke-width="1.3" fill="none" opacity="0.8">
<path d="M961.2 818.6 L1025.2 1080"/>
<path d="M967.6 816.5 L1032.2 1080"/>
<path d="M974.0 814.4 L1039.1 1080"/>
<path d="M980.4 812.3 L1046.0 1080"/>
<path d="M986.8 810.2 L1052.9 1080"/>
<path d="M993.2 808.1 L1059.8 1080"/>
<path d="M999.6 806.0 L1066.7 1080"/>
<path d="M1006.0 803.9 L1073.6 1080"/>
<path d="M1012.4 801.8 L1080.6 1080"/>
<path d="M956.1 826.0 L1018.1 812.0"/>
<path d="M958.4 835.3 L1020.4 821.3"/>
<path d="M960.7 844.6 L1022.7 830.6"/>
<path d="M962.9 853.9 L1024.9 839.9"/>
<path d="M965.2 863.2 L1027.2 849.2"/>
<path d="M967.5 872.5 L1029.5 858.5"/>
<path d="M969.8 881.8 L1031.8 867.8"/>
<path d="M972.0 891.1 L1034.0 877.1"/>
<path d="M974.3 900.4 L1036.3 886.4"/>
<path d="M976.6 909.7 L1038.6 895.7"/>
<path d="M978.9 919.0 L1040.9 905.0"/>
<path d="M981.2 928.3 L1043.2 914.3"/>
<path d="M983.4 937.6 L1045.4 923.6"/>
<path d="M985.7 946.9 L1047.7 932.9"/>
<path d="M988.0 956.2 L1050.0 942.2"/>
<path d="M990.3 965.5 L1052.3 951.5"/>
<path d="M992.6 974.8 L1054.6 960.8"/>
<path d="M994.8 984.1 L1056.8 970.1"/>
<path d="M997.1 993.4 L1059.1 979.4"/>
<path d="M999.4 1002.7 L1061.4 988.7"/>
<path d="M1001.7 1012.0 L1063.7 998.0"/>
<path d="M1003.9 1021.3 L1065.9 1007.3"/>
<path d="M1006.2 1030.6 L1068.2 1016.6"/>
<path d="M1008.5 1039.9 L1070.5 1025.9"/>
<path d="M1010.8 1049.2 L1072.8 1035.2"/>
<path d="M1013.1 1058.5 L1075.1 1044.5"/>
<path d="M1015.3 1067.8 L1077.3 1053.8"/>
<path d="M1017.6 1077.1 L1079.6 1063.1"/>
<path d="M1019.9 1086.4 L1081.9 1072.4"/>
<path d="M1022.2 1095.7 L1084.2 1081.7"/>
</g>
<g stroke="#3f7ad0" stroke-width="1" fill="none" opacity="0.5">
<path d="M960.5 835.0 L1015.5 845.0"/>
<path d="M965.2 854.0 L1020.2 864.0"/>
<path d="M969.8 873.0 L1024.8 883.0"/>
<path d="M974.5 892.0 L1029.5 902.0"/>
<path d="M979.1 911.0 L1034.1 921.0"/>
<path d="M983.8 930.0 L1038.8 940.0"/>
<path d="M988.4 949.0 L1043.4 959.0"/>
<path d="M993.1 968.0 L1048.1 978.0"/>
<path d="M997.7 987.0 L1052.7 997.0"/>
<path d="M1002.4 1006.0 L1057.4 1016.0"/>
<path d="M1007.1 1025.0 L1062.1 1035.0"/>
<path d="M1011.7 1044.0 L1066.7 1054.0"/>
<path d="M1016.4 1063.0 L1071.4 1073.0"/>
<path d="M1021.0 1082.0 L1076.0 1092.0"/>
</g>
<g stroke="#2259ae" stroke-width="1.4" fill="none" opacity="0.85">
<path d="M1016.0 770 L1105.9 1080"/>
<path d="M1022.0 770 L1112.4 1080"/>
<path d="M1028.0 770 L1118.9 1080"/>
<path d="M1034.0 770 L1125.4 1080"/>
<path d="M1040.0 770 L1131.9 1080"/>
<path d="M1046.0 770 L1138.4 1080"/>
<path d="M1052.0 770 L1144.9 1080"/>
<path d="M1058.0 770 L1151.4 1080"/>
<path d="M1064.0 770 L1157.9 1080"/>
<path d="M1070.0 770 L1164.4 1080"/>
<path d="M1076.0 770 L1170.9 1080"/>
<path d="M1082.0 770 L1177.4 1080"/>
</g>
<g stroke="#4a84d6" stroke-width="1.3" fill="none" opacity="0.7"><path d="M954.8 821.5 L1032 796.3 L1080 770"/><path d="M957 827 L1030 803"/></g>
<g fill="#4a84d6" opacity="0.35"><polygon points="1060,782 1080,772 1080,800 1066,806"/></g>
</g>
</svg>
<div class="sub"><span style="left:38.3px;letter-spacing:1.35px">MARKET</span> <span style="left:180.3px;letter-spacing:0.05px">CLOSED</span> <span style="left:314.4px;letter-spacing:2.9px;transform:scaleX(1.065)">09/24/25</span></div>
<div class="title"><span style="left:38.4px;letter-spacing:0.6px">INDEX</span> <span style="left:252.4px;letter-spacing:-1.2px;transform:scaleX(0.963)">REPORTS</span></div>
<div class="tbl">
<div class="hd">
<div style="left:15px">Index</div><svg class="srt" style="left:248.30px;top:16.20px" width="16.5" height="20.7" viewBox="0 0 16.5 20.7"><path d="M8.25 1 L15.5 8.3 H1 Z M8.25 19.7 L15.5 12.4 H1 Z" fill="#fff" stroke="#fff" stroke-width="0.6" stroke-linejoin="round"/></svg><div class="sep" style="left:281.7px"></div><div style="right:526px">Value</div><svg class="srt" style="left:467.01px;top:13.85px" width="16.5" height="20.7" viewBox="0 0 16.5 20.7"><path d="M8.25 1 L15.5 8.3 H1 Z M8.25 19.7 L15.5 12.4 H1 Z" fill="#fff" stroke="#fff" stroke-width="0.6" stroke-linejoin="round"/></svg><div class="sep" style="left:500.25px"></div><div style="right:302.5px;letter-spacing:-0.6px">Change</div><svg class="srt" style="left:690.75px;top:13.85px" width="16.5" height="20.7" viewBox="0 0 16.5 20.7"><path d="M8.25 1 L15.5 8.3 H1 Z M8.25 19.7 L15.5 12.4 H1 Z" fill="#fff" stroke="#fff" stroke-width="0.6" stroke-linejoin="round"/></svg><div class="sep" style="left:723.55px"></div><div style="right:43px;letter-spacing:-1px">% Change</div><svg class="srt" style="left:950.75px;top:13.85px" width="16.5" height="20.7" viewBox="0 0 16.5 20.7"><path d="M8.25 1 L15.5 8.3 H1 Z M8.25 19.7 L15.5 12.4 H1 Z" fill="#fff" stroke="#fff" stroke-width="0.6" stroke-linejoin="round"/></svg>
</div>
<div class="row" style="top:55.00px;"><div class="c1" style="letter-spacing:-1.5px">PSEi</div><div class="c2">6,108.72</div><div class="c3">-9.82</div><div class="c4">-0.16%</div></div>
<div class="ln" style="top:116px"></div><div class="row" style="top:116.42px;"><div class="c1" style="letter-spacing:-0.8px">All Shares</div><div class="c2">3,682.29</div><div class="c3">-11.38</div><div class="c4">-0.31%</div></div>
<div class="ln" style="top:177px"></div><div class="row" style="top:177.84px;"><div class="c1" style="letter-spacing:-0.75px">Financials</div><div class="c2">2,065.82</div><div class="c3">-2.73</div><div class="c4">-0.13%</div></div>
<div class="ln" style="top:239px"></div><div class="row" style="top:239.26px;"><div class="c1" style="letter-spacing:-0.17px">Industrial</div><div class="c2">8,843.17</div><div class="c3">-29.85</div><div class="c4">-0.34%</div></div>
<div class="ln" style="top:300px"></div><div class="row" style="top:300.68px;"><div class="c1" style="letter-spacing:-0.62px">Holding Firms</div><div class="c2">5,012.23</div><div class="c3">-10.81</div><div class="c4">-0.22%</div></div>
<div class="ln" style="top:362px"></div><div class="row" style="top:362.10px;"><div class="c1" style="letter-spacing:0px">Property</div><div class="c2">2,394.07</div><div class="c3">-8.96</div><div class="c4">-0.37%</div></div>
<div class="ln" style="top:423px"></div><div class="row" style="top:423.52px;"><div class="c1" style="letter-spacing:-0.93px">Services</div><div class="c2">2,235.86</div><div class="c3">-3.93</div><div class="c4">-0.18%</div></div>
<div class="ln" style="top:485px"></div><div class="row" style="top:484.94px;"><div class="c1" style="letter-spacing:-0.23px">Mining &amp; Oil</div><div class="c2">12,275.03</div><div class="c3">-18.49</div><div class="c4">-0.15%</div></div>
</div>
<svg style="position:absolute;left:48px;top:948px" width="50" height="78" viewBox="48 948 50 78">
<defs>
<linearGradient id="lg1" x1="0" y1="0" x2="1" y2="0"><stop offset="0" stop-color="#e9a228"/><stop offset="0.4" stop-color="#ffd55e"/><stop offset="1" stop-color="#f0a52c"/></linearGradient>
<linearGradient id="lg2" x1="0" y1="0" x2="1" y2="0"><stop offset="0" stop-color="#fbd15a"/><stop offset="1" stop-color="#dc8410"/></linearGradient>
<linearGradient id="lb1" x1="0" y1="0" x2="1" y2="0"><stop offset="0" stop-color="#0a3f8e"/><stop offset="1" stop-color="#1b80cc"/></linearGradient>
<linearGradient id="lb2" x1="0" y1="0" x2="1" y2="0"><stop offset="0" stop-color="#1978c8"/><stop offset="0.55" stop-color="#5bbdea"/><stop offset="1" stop-color="#2484d4"/></linearGradient>
</defs>
<path d="M55.9 986 Q55.6 983.6 57.5 982 L67.1 972.9 L76.2 979.8 L61.7 992.1 Z" fill="url(#lb1)"/>
<path d="M55.9 985 L61.7 992.1 L79 1004.6 Q80.4 1005.8 80.4 1008 L80.5 1019.5 L58 1003.5 Q55.9 1002 55.9 999.5 Z" fill="url(#lb2)"/>
<path d="M81.2 983 L86.3 987.5 Q86.6 990 85 991.8 L75.1 1001.8 L66.1 993.9 Z" fill="url(#lg2)"/>
<path d="M62.1 954.5 L84.3 971.3 Q86 972.8 86 975 L86.3 988.5 L81.2 983 L63.6 969.9 Q62.1 968.6 62.1 966.5 Z" fill="url(#lg1)"/>
</svg>
<div class="pse">PSE</div>
</body></html>
